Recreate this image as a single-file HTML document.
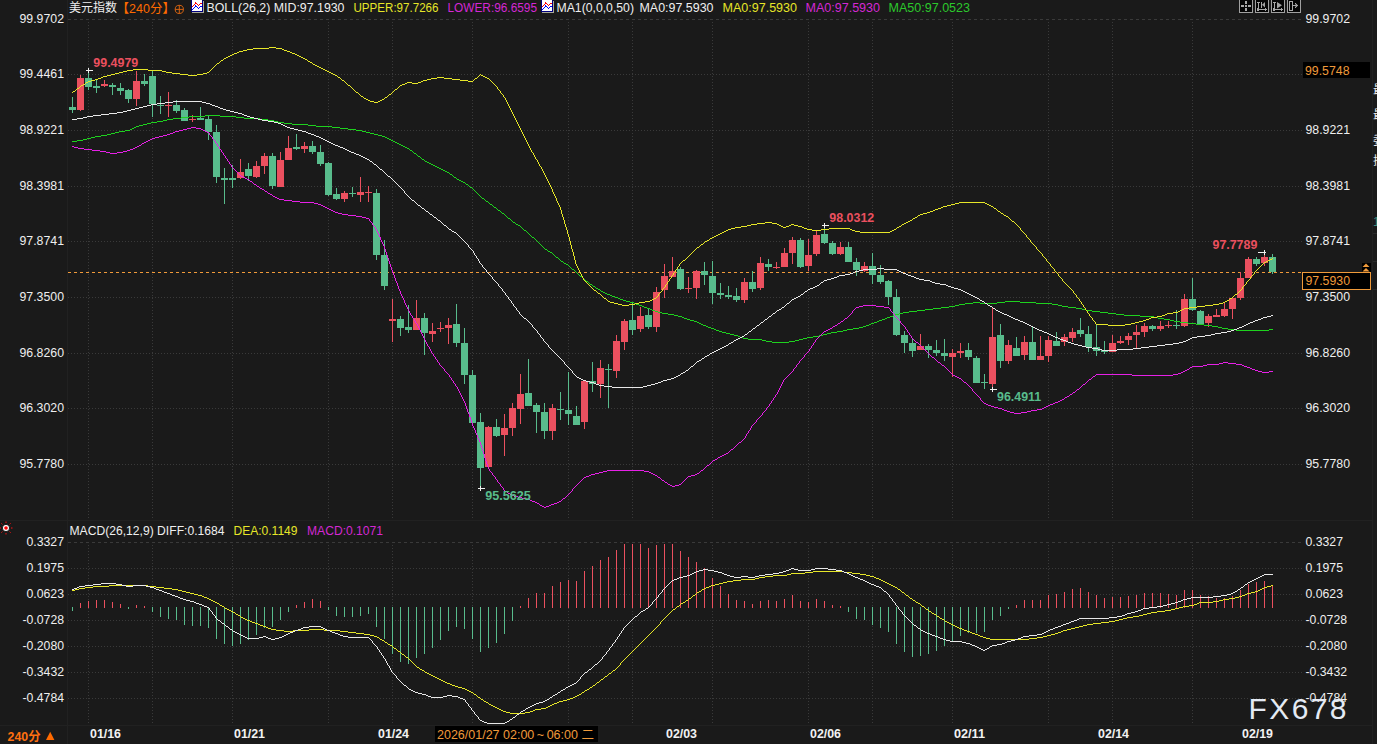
<!DOCTYPE html>
<html><head><meta charset="utf-8"><title>美元指数 240分</title>
<style>
html,body{margin:0;padding:0;background:#1a1a1a;width:1377px;height:744px;overflow:hidden}
svg{position:absolute;left:0;top:0;display:block}
text{font-family:"Liberation Sans","Noto Sans CJK SC",sans-serif}
</style></head><body>
<svg width="1377" height="744" viewBox="0 0 1377 744">
<g shape-rendering="crispEdges" fill="none">
<line x1="68" y1="19.5" x2="1302" y2="19.5" stroke="#3a3a3a" stroke-dasharray="3 3"/>
<line x1="68" y1="74.5" x2="1302" y2="74.5" stroke="#3a3a3a" stroke-dasharray="1 2"/>
<line x1="68" y1="130.5" x2="1302" y2="130.5" stroke="#3a3a3a" stroke-dasharray="1 2"/>
<line x1="68" y1="186.5" x2="1302" y2="186.5" stroke="#3a3a3a" stroke-dasharray="1 2"/>
<line x1="68" y1="241.5" x2="1302" y2="241.5" stroke="#3a3a3a" stroke-dasharray="1 2"/>
<line x1="68" y1="297.5" x2="1302" y2="297.5" stroke="#3a3a3a" stroke-dasharray="1 2"/>
<line x1="68" y1="353.5" x2="1302" y2="353.5" stroke="#3a3a3a" stroke-dasharray="1 2"/>
<line x1="68" y1="408.5" x2="1302" y2="408.5" stroke="#3a3a3a" stroke-dasharray="1 2"/>
<line x1="68" y1="464.5" x2="1302" y2="464.5" stroke="#3a3a3a" stroke-dasharray="1 2"/>
<line x1="68" y1="542.5" x2="1302" y2="542.5" stroke="#3a3a3a" stroke-dasharray="3 3"/>
<line x1="68" y1="568.5" x2="1302" y2="568.5" stroke="#3a3a3a" stroke-dasharray="1 2"/>
<line x1="68" y1="594.5" x2="1302" y2="594.5" stroke="#3a3a3a" stroke-dasharray="1 2"/>
<line x1="68" y1="620.5" x2="1302" y2="620.5" stroke="#3a3a3a" stroke-dasharray="1 2"/>
<line x1="68" y1="646.5" x2="1302" y2="646.5" stroke="#3a3a3a" stroke-dasharray="1 2"/>
<line x1="68" y1="672.5" x2="1302" y2="672.5" stroke="#3a3a3a" stroke-dasharray="1 2"/>
<line x1="68" y1="698.5" x2="1302" y2="698.5" stroke="#3a3a3a" stroke-dasharray="1 2"/>
<line x1="88.5" y1="22" x2="88.5" y2="518" stroke="#3a3a3a" stroke-dasharray="1 2"/>
<line x1="88.5" y1="545" x2="88.5" y2="723" stroke="#3a3a3a" stroke-dasharray="1 2"/>
<line x1="152.5" y1="22" x2="152.5" y2="518" stroke="#3a3a3a" stroke-dasharray="1 2"/>
<line x1="152.5" y1="545" x2="152.5" y2="723" stroke="#3a3a3a" stroke-dasharray="1 2"/>
<line x1="232.5" y1="22" x2="232.5" y2="518" stroke="#3a3a3a" stroke-dasharray="1 2"/>
<line x1="232.5" y1="545" x2="232.5" y2="723" stroke="#3a3a3a" stroke-dasharray="1 2"/>
<line x1="328.5" y1="22" x2="328.5" y2="518" stroke="#3a3a3a" stroke-dasharray="1 2"/>
<line x1="328.5" y1="545" x2="328.5" y2="723" stroke="#3a3a3a" stroke-dasharray="1 2"/>
<line x1="392.5" y1="22" x2="392.5" y2="518" stroke="#3a3a3a" stroke-dasharray="1 2"/>
<line x1="392.5" y1="545" x2="392.5" y2="723" stroke="#3a3a3a" stroke-dasharray="1 2"/>
<line x1="472.5" y1="22" x2="472.5" y2="518" stroke="#3a3a3a" stroke-dasharray="1 2"/>
<line x1="472.5" y1="545" x2="472.5" y2="723" stroke="#3a3a3a" stroke-dasharray="1 2"/>
<line x1="568.5" y1="22" x2="568.5" y2="518" stroke="#3a3a3a" stroke-dasharray="1 2"/>
<line x1="568.5" y1="545" x2="568.5" y2="723" stroke="#3a3a3a" stroke-dasharray="1 2"/>
<line x1="632.5" y1="22" x2="632.5" y2="518" stroke="#3a3a3a" stroke-dasharray="1 2"/>
<line x1="632.5" y1="545" x2="632.5" y2="723" stroke="#3a3a3a" stroke-dasharray="1 2"/>
<line x1="712.5" y1="22" x2="712.5" y2="518" stroke="#3a3a3a" stroke-dasharray="1 2"/>
<line x1="712.5" y1="545" x2="712.5" y2="723" stroke="#3a3a3a" stroke-dasharray="1 2"/>
<line x1="808.5" y1="22" x2="808.5" y2="518" stroke="#3a3a3a" stroke-dasharray="1 2"/>
<line x1="808.5" y1="545" x2="808.5" y2="723" stroke="#3a3a3a" stroke-dasharray="1 2"/>
<line x1="872.5" y1="22" x2="872.5" y2="518" stroke="#3a3a3a" stroke-dasharray="1 2"/>
<line x1="872.5" y1="545" x2="872.5" y2="723" stroke="#3a3a3a" stroke-dasharray="1 2"/>
<line x1="952.5" y1="22" x2="952.5" y2="518" stroke="#3a3a3a" stroke-dasharray="1 2"/>
<line x1="952.5" y1="545" x2="952.5" y2="723" stroke="#3a3a3a" stroke-dasharray="1 2"/>
<line x1="1048.5" y1="22" x2="1048.5" y2="518" stroke="#3a3a3a" stroke-dasharray="1 2"/>
<line x1="1048.5" y1="545" x2="1048.5" y2="723" stroke="#3a3a3a" stroke-dasharray="1 2"/>
<line x1="1112.5" y1="22" x2="1112.5" y2="518" stroke="#3a3a3a" stroke-dasharray="1 2"/>
<line x1="1112.5" y1="545" x2="1112.5" y2="723" stroke="#3a3a3a" stroke-dasharray="1 2"/>
<line x1="1192.5" y1="22" x2="1192.5" y2="518" stroke="#3a3a3a" stroke-dasharray="1 2"/>
<line x1="1192.5" y1="545" x2="1192.5" y2="723" stroke="#3a3a3a" stroke-dasharray="1 2"/>
<line x1="67.5" y1="0" x2="67.5" y2="744" stroke="#212121"/>
<line x1="0" y1="520.5" x2="1372" y2="520.5" stroke="#212121"/>
<line x1="0" y1="725.5" x2="1372" y2="725.5" stroke="#212121"/>
<line x1="1372.5" y1="0" x2="1372.5" y2="744" stroke="#212121"/>
</g>
<line x1="68" y1="272.5" x2="1302" y2="272.5" stroke="#f09a3a" stroke-dasharray="3 3" shape-rendering="crispEdges"/>
<g shape-rendering="crispEdges">
<rect x="72" y="97" width="1" height="16" fill="#58bc8c"/>
<rect x="69" y="107" width="7" height="3" fill="#58bc8c"/>
<rect x="80" y="75" width="1" height="36" fill="#eb505f"/>
<rect x="77" y="78" width="7" height="32" fill="#eb505f"/>
<rect x="88" y="70" width="1" height="20" fill="#58bc8c"/>
<rect x="85" y="78" width="7" height="9" fill="#58bc8c"/>
<rect x="96" y="80" width="1" height="13" fill="#58bc8c"/>
<rect x="93" y="86" width="7" height="2" fill="#58bc8c"/>
<rect x="104" y="80" width="1" height="7" fill="#eb505f"/>
<rect x="101" y="84" width="7" height="2" fill="#eb505f"/>
<rect x="112" y="83" width="1" height="12" fill="#58bc8c"/>
<rect x="109" y="85" width="7" height="2" fill="#58bc8c"/>
<rect x="120" y="83" width="1" height="12" fill="#58bc8c"/>
<rect x="117" y="88" width="7" height="3" fill="#58bc8c"/>
<rect x="128" y="89" width="1" height="14" fill="#58bc8c"/>
<rect x="125" y="90" width="7" height="9" fill="#58bc8c"/>
<rect x="136" y="71" width="1" height="35" fill="#eb505f"/>
<rect x="133" y="81" width="7" height="18" fill="#eb505f"/>
<rect x="144" y="74" width="1" height="12" fill="#58bc8c"/>
<rect x="141" y="81" width="7" height="3" fill="#58bc8c"/>
<rect x="152" y="71" width="1" height="46" fill="#58bc8c"/>
<rect x="149" y="76" width="7" height="28" fill="#58bc8c"/>
<rect x="160" y="96" width="1" height="18" fill="#58bc8c"/>
<rect x="157" y="105" width="7" height="1" fill="#58bc8c"/>
<rect x="168" y="92" width="1" height="25" fill="#eb505f"/>
<rect x="165" y="105" width="7" height="1" fill="#eb505f"/>
<rect x="176" y="100" width="1" height="13" fill="#58bc8c"/>
<rect x="173" y="105" width="7" height="6" fill="#58bc8c"/>
<rect x="184" y="108" width="1" height="13" fill="#58bc8c"/>
<rect x="181" y="110" width="7" height="11" fill="#58bc8c"/>
<rect x="192" y="115" width="1" height="7" fill="#eb505f"/>
<rect x="189" y="119" width="7" height="1" fill="#eb505f"/>
<rect x="200" y="107" width="1" height="13" fill="#58bc8c"/>
<rect x="197" y="118" width="7" height="2" fill="#58bc8c"/>
<rect x="208" y="116" width="1" height="24" fill="#58bc8c"/>
<rect x="205" y="119" width="7" height="13" fill="#58bc8c"/>
<rect x="216" y="125" width="1" height="58" fill="#58bc8c"/>
<rect x="213" y="132" width="7" height="45" fill="#58bc8c"/>
<rect x="224" y="168" width="1" height="36" fill="#58bc8c"/>
<rect x="221" y="178" width="7" height="2" fill="#58bc8c"/>
<rect x="232" y="165" width="1" height="23" fill="#58bc8c"/>
<rect x="229" y="178" width="7" height="2" fill="#58bc8c"/>
<rect x="240" y="159" width="1" height="20" fill="#eb505f"/>
<rect x="237" y="172" width="7" height="6" fill="#eb505f"/>
<rect x="248" y="163" width="1" height="18" fill="#58bc8c"/>
<rect x="245" y="169" width="7" height="7" fill="#58bc8c"/>
<rect x="256" y="161" width="1" height="17" fill="#eb505f"/>
<rect x="253" y="166" width="7" height="11" fill="#eb505f"/>
<rect x="264" y="153" width="1" height="21" fill="#eb505f"/>
<rect x="261" y="156" width="7" height="10" fill="#eb505f"/>
<rect x="272" y="153" width="1" height="36" fill="#58bc8c"/>
<rect x="269" y="156" width="7" height="30" fill="#58bc8c"/>
<rect x="280" y="152" width="1" height="35" fill="#eb505f"/>
<rect x="277" y="160" width="7" height="27" fill="#eb505f"/>
<rect x="288" y="136" width="1" height="24" fill="#eb505f"/>
<rect x="285" y="148" width="7" height="12" fill="#eb505f"/>
<rect x="296" y="134" width="1" height="16" fill="#58bc8c"/>
<rect x="293" y="147" width="7" height="2" fill="#58bc8c"/>
<rect x="304" y="142" width="1" height="11" fill="#eb505f"/>
<rect x="301" y="146" width="7" height="3" fill="#eb505f"/>
<rect x="312" y="141" width="1" height="13" fill="#58bc8c"/>
<rect x="309" y="146" width="7" height="6" fill="#58bc8c"/>
<rect x="320" y="145" width="1" height="21" fill="#58bc8c"/>
<rect x="317" y="152" width="7" height="12" fill="#58bc8c"/>
<rect x="328" y="162" width="1" height="34" fill="#58bc8c"/>
<rect x="325" y="163" width="7" height="32" fill="#58bc8c"/>
<rect x="336" y="188" width="1" height="12" fill="#58bc8c"/>
<rect x="333" y="194" width="7" height="5" fill="#58bc8c"/>
<rect x="344" y="191" width="1" height="11" fill="#eb505f"/>
<rect x="341" y="193" width="7" height="6" fill="#eb505f"/>
<rect x="352" y="187" width="1" height="10" fill="#58bc8c"/>
<rect x="349" y="193" width="7" height="1" fill="#58bc8c"/>
<rect x="360" y="177" width="1" height="25" fill="#eb505f"/>
<rect x="357" y="192" width="7" height="3" fill="#eb505f"/>
<rect x="368" y="186" width="1" height="16" fill="#eb505f"/>
<rect x="365" y="192" width="7" height="1" fill="#eb505f"/>
<rect x="376" y="189" width="1" height="71" fill="#58bc8c"/>
<rect x="373" y="193" width="7" height="62" fill="#58bc8c"/>
<rect x="384" y="240" width="1" height="50" fill="#58bc8c"/>
<rect x="381" y="255" width="7" height="31" fill="#58bc8c"/>
<rect x="392" y="299" width="1" height="43" fill="#eb505f"/>
<rect x="389" y="319" width="7" height="2" fill="#eb505f"/>
<rect x="400" y="316" width="1" height="20" fill="#58bc8c"/>
<rect x="397" y="319" width="7" height="9" fill="#58bc8c"/>
<rect x="408" y="305" width="1" height="28" fill="#58bc8c"/>
<rect x="405" y="327" width="7" height="3" fill="#58bc8c"/>
<rect x="416" y="300" width="1" height="30" fill="#eb505f"/>
<rect x="413" y="318" width="7" height="12" fill="#eb505f"/>
<rect x="424" y="313" width="1" height="42" fill="#58bc8c"/>
<rect x="421" y="318" width="7" height="15" fill="#58bc8c"/>
<rect x="432" y="323" width="1" height="19" fill="#eb505f"/>
<rect x="429" y="331" width="7" height="3" fill="#eb505f"/>
<rect x="440" y="322" width="1" height="10" fill="#eb505f"/>
<rect x="437" y="328" width="7" height="1" fill="#eb505f"/>
<rect x="448" y="318" width="1" height="26" fill="#eb505f"/>
<rect x="445" y="325" width="7" height="3" fill="#eb505f"/>
<rect x="456" y="304" width="1" height="43" fill="#58bc8c"/>
<rect x="453" y="324" width="7" height="19" fill="#58bc8c"/>
<rect x="464" y="328" width="1" height="56" fill="#58bc8c"/>
<rect x="461" y="343" width="7" height="32" fill="#58bc8c"/>
<rect x="472" y="370" width="1" height="55" fill="#58bc8c"/>
<rect x="469" y="375" width="7" height="48" fill="#58bc8c"/>
<rect x="480" y="413" width="1" height="76" fill="#58bc8c"/>
<rect x="477" y="422" width="7" height="46" fill="#58bc8c"/>
<rect x="488" y="426" width="1" height="41" fill="#eb505f"/>
<rect x="485" y="427" width="7" height="40" fill="#eb505f"/>
<rect x="496" y="419" width="1" height="18" fill="#58bc8c"/>
<rect x="493" y="427" width="7" height="9" fill="#58bc8c"/>
<rect x="504" y="414" width="1" height="42" fill="#eb505f"/>
<rect x="501" y="428" width="7" height="7" fill="#eb505f"/>
<rect x="512" y="403" width="1" height="33" fill="#eb505f"/>
<rect x="509" y="408" width="7" height="20" fill="#eb505f"/>
<rect x="520" y="374" width="1" height="50" fill="#eb505f"/>
<rect x="517" y="394" width="7" height="15" fill="#eb505f"/>
<rect x="528" y="359" width="1" height="47" fill="#58bc8c"/>
<rect x="525" y="393" width="7" height="13" fill="#58bc8c"/>
<rect x="536" y="403" width="1" height="30" fill="#58bc8c"/>
<rect x="533" y="405" width="7" height="7" fill="#58bc8c"/>
<rect x="544" y="403" width="1" height="36" fill="#58bc8c"/>
<rect x="541" y="412" width="7" height="19" fill="#58bc8c"/>
<rect x="552" y="404" width="1" height="36" fill="#eb505f"/>
<rect x="549" y="408" width="7" height="23" fill="#eb505f"/>
<rect x="560" y="392" width="1" height="28" fill="#58bc8c"/>
<rect x="557" y="409" width="7" height="1" fill="#58bc8c"/>
<rect x="568" y="372" width="1" height="53" fill="#58bc8c"/>
<rect x="565" y="410" width="7" height="4" fill="#58bc8c"/>
<rect x="576" y="406" width="1" height="19" fill="#58bc8c"/>
<rect x="573" y="416" width="7" height="9" fill="#58bc8c"/>
<rect x="584" y="381" width="1" height="48" fill="#eb505f"/>
<rect x="581" y="381" width="7" height="41" fill="#eb505f"/>
<rect x="592" y="362" width="1" height="30" fill="#58bc8c"/>
<rect x="589" y="381" width="7" height="3" fill="#58bc8c"/>
<rect x="600" y="360" width="1" height="38" fill="#eb505f"/>
<rect x="597" y="368" width="7" height="16" fill="#eb505f"/>
<rect x="608" y="364" width="1" height="44" fill="#58bc8c"/>
<rect x="605" y="369" width="7" height="1" fill="#58bc8c"/>
<rect x="616" y="335" width="1" height="43" fill="#eb505f"/>
<rect x="613" y="341" width="7" height="30" fill="#eb505f"/>
<rect x="624" y="319" width="1" height="31" fill="#eb505f"/>
<rect x="621" y="321" width="7" height="21" fill="#eb505f"/>
<rect x="632" y="302" width="1" height="33" fill="#58bc8c"/>
<rect x="629" y="320" width="7" height="10" fill="#58bc8c"/>
<rect x="640" y="307" width="1" height="25" fill="#eb505f"/>
<rect x="637" y="316" width="7" height="13" fill="#eb505f"/>
<rect x="648" y="308" width="1" height="21" fill="#58bc8c"/>
<rect x="645" y="315" width="7" height="12" fill="#58bc8c"/>
<rect x="656" y="287" width="1" height="45" fill="#eb505f"/>
<rect x="653" y="292" width="7" height="35" fill="#eb505f"/>
<rect x="664" y="264" width="1" height="34" fill="#eb505f"/>
<rect x="661" y="276" width="7" height="14" fill="#eb505f"/>
<rect x="672" y="257" width="1" height="20" fill="#eb505f"/>
<rect x="669" y="271" width="7" height="6" fill="#eb505f"/>
<rect x="680" y="267" width="1" height="23" fill="#58bc8c"/>
<rect x="677" y="269" width="7" height="20" fill="#58bc8c"/>
<rect x="688" y="277" width="1" height="16" fill="#eb505f"/>
<rect x="685" y="288" width="7" height="1" fill="#eb505f"/>
<rect x="696" y="270" width="1" height="29" fill="#eb505f"/>
<rect x="693" y="271" width="7" height="17" fill="#eb505f"/>
<rect x="704" y="262" width="1" height="23" fill="#58bc8c"/>
<rect x="701" y="271" width="7" height="4" fill="#58bc8c"/>
<rect x="712" y="261" width="1" height="43" fill="#58bc8c"/>
<rect x="709" y="276" width="7" height="17" fill="#58bc8c"/>
<rect x="720" y="283" width="1" height="16" fill="#58bc8c"/>
<rect x="717" y="293" width="7" height="2" fill="#58bc8c"/>
<rect x="728" y="286" width="1" height="13" fill="#58bc8c"/>
<rect x="725" y="295" width="7" height="2" fill="#58bc8c"/>
<rect x="736" y="288" width="1" height="14" fill="#58bc8c"/>
<rect x="733" y="296" width="7" height="4" fill="#58bc8c"/>
<rect x="744" y="278" width="1" height="25" fill="#eb505f"/>
<rect x="741" y="282" width="7" height="18" fill="#eb505f"/>
<rect x="752" y="271" width="1" height="21" fill="#58bc8c"/>
<rect x="749" y="282" width="7" height="7" fill="#58bc8c"/>
<rect x="760" y="257" width="1" height="33" fill="#eb505f"/>
<rect x="757" y="263" width="7" height="25" fill="#eb505f"/>
<rect x="768" y="259" width="1" height="12" fill="#58bc8c"/>
<rect x="765" y="264" width="7" height="3" fill="#58bc8c"/>
<rect x="776" y="262" width="1" height="7" fill="#eb505f"/>
<rect x="773" y="267" width="7" height="1" fill="#eb505f"/>
<rect x="784" y="248" width="1" height="19" fill="#eb505f"/>
<rect x="781" y="253" width="7" height="14" fill="#eb505f"/>
<rect x="792" y="237" width="1" height="27" fill="#eb505f"/>
<rect x="789" y="240" width="7" height="13" fill="#eb505f"/>
<rect x="800" y="238" width="1" height="30" fill="#58bc8c"/>
<rect x="797" y="240" width="7" height="27" fill="#58bc8c"/>
<rect x="808" y="239" width="1" height="32" fill="#eb505f"/>
<rect x="805" y="255" width="7" height="11" fill="#eb505f"/>
<rect x="816" y="231" width="1" height="25" fill="#eb505f"/>
<rect x="813" y="235" width="7" height="19" fill="#eb505f"/>
<rect x="824" y="225" width="1" height="19" fill="#58bc8c"/>
<rect x="821" y="234" width="7" height="9" fill="#58bc8c"/>
<rect x="832" y="241" width="1" height="14" fill="#58bc8c"/>
<rect x="829" y="243" width="7" height="11" fill="#58bc8c"/>
<rect x="840" y="242" width="1" height="13" fill="#eb505f"/>
<rect x="837" y="247" width="7" height="7" fill="#eb505f"/>
<rect x="848" y="242" width="1" height="20" fill="#58bc8c"/>
<rect x="845" y="247" width="7" height="15" fill="#58bc8c"/>
<rect x="856" y="258" width="1" height="18" fill="#58bc8c"/>
<rect x="853" y="262" width="7" height="8" fill="#58bc8c"/>
<rect x="864" y="262" width="1" height="10" fill="#eb505f"/>
<rect x="861" y="266" width="7" height="5" fill="#eb505f"/>
<rect x="872" y="253" width="1" height="31" fill="#58bc8c"/>
<rect x="869" y="266" width="7" height="9" fill="#58bc8c"/>
<rect x="880" y="265" width="1" height="19" fill="#58bc8c"/>
<rect x="877" y="275" width="7" height="7" fill="#58bc8c"/>
<rect x="888" y="280" width="1" height="25" fill="#58bc8c"/>
<rect x="885" y="281" width="7" height="16" fill="#58bc8c"/>
<rect x="896" y="289" width="1" height="47" fill="#58bc8c"/>
<rect x="893" y="297" width="7" height="38" fill="#58bc8c"/>
<rect x="904" y="331" width="1" height="22" fill="#58bc8c"/>
<rect x="901" y="335" width="7" height="8" fill="#58bc8c"/>
<rect x="912" y="339" width="1" height="18" fill="#58bc8c"/>
<rect x="909" y="343" width="7" height="8" fill="#58bc8c"/>
<rect x="920" y="334" width="1" height="16" fill="#eb505f"/>
<rect x="917" y="346" width="7" height="4" fill="#eb505f"/>
<rect x="928" y="344" width="1" height="14" fill="#58bc8c"/>
<rect x="925" y="346" width="7" height="4" fill="#58bc8c"/>
<rect x="936" y="340" width="1" height="16" fill="#58bc8c"/>
<rect x="933" y="350" width="7" height="3" fill="#58bc8c"/>
<rect x="944" y="339" width="1" height="22" fill="#58bc8c"/>
<rect x="941" y="353" width="7" height="3" fill="#58bc8c"/>
<rect x="952" y="349" width="1" height="28" fill="#eb505f"/>
<rect x="949" y="353" width="7" height="4" fill="#eb505f"/>
<rect x="960" y="343" width="1" height="15" fill="#eb505f"/>
<rect x="957" y="351" width="7" height="2" fill="#eb505f"/>
<rect x="968" y="343" width="1" height="17" fill="#58bc8c"/>
<rect x="965" y="350" width="7" height="7" fill="#58bc8c"/>
<rect x="976" y="356" width="1" height="27" fill="#58bc8c"/>
<rect x="973" y="358" width="7" height="25" fill="#58bc8c"/>
<rect x="984" y="374" width="1" height="15" fill="#58bc8c"/>
<rect x="981" y="382" width="7" height="1" fill="#58bc8c"/>
<rect x="992" y="307" width="1" height="82" fill="#eb505f"/>
<rect x="989" y="337" width="7" height="47" fill="#eb505f"/>
<rect x="1000" y="324" width="1" height="44" fill="#58bc8c"/>
<rect x="997" y="335" width="7" height="26" fill="#58bc8c"/>
<rect x="1008" y="340" width="1" height="24" fill="#eb505f"/>
<rect x="1005" y="345" width="7" height="16" fill="#eb505f"/>
<rect x="1016" y="337" width="1" height="19" fill="#58bc8c"/>
<rect x="1013" y="348" width="7" height="8" fill="#58bc8c"/>
<rect x="1024" y="336" width="1" height="24" fill="#eb505f"/>
<rect x="1021" y="342" width="7" height="13" fill="#eb505f"/>
<rect x="1032" y="327" width="1" height="33" fill="#58bc8c"/>
<rect x="1029" y="342" width="7" height="18" fill="#58bc8c"/>
<rect x="1040" y="336" width="1" height="24" fill="#eb505f"/>
<rect x="1037" y="356" width="7" height="4" fill="#eb505f"/>
<rect x="1048" y="336" width="1" height="26" fill="#eb505f"/>
<rect x="1045" y="340" width="7" height="16" fill="#eb505f"/>
<rect x="1056" y="332" width="1" height="14" fill="#58bc8c"/>
<rect x="1053" y="341" width="7" height="5" fill="#58bc8c"/>
<rect x="1064" y="334" width="1" height="12" fill="#eb505f"/>
<rect x="1061" y="337" width="7" height="5" fill="#eb505f"/>
<rect x="1072" y="328" width="1" height="14" fill="#eb505f"/>
<rect x="1069" y="332" width="7" height="6" fill="#eb505f"/>
<rect x="1080" y="318" width="1" height="19" fill="#58bc8c"/>
<rect x="1077" y="330" width="7" height="4" fill="#58bc8c"/>
<rect x="1088" y="326" width="1" height="26" fill="#58bc8c"/>
<rect x="1085" y="334" width="7" height="13" fill="#58bc8c"/>
<rect x="1096" y="325" width="1" height="31" fill="#58bc8c"/>
<rect x="1093" y="347" width="7" height="4" fill="#58bc8c"/>
<rect x="1104" y="341" width="1" height="13" fill="#58bc8c"/>
<rect x="1101" y="350" width="7" height="2" fill="#58bc8c"/>
<rect x="1112" y="335" width="1" height="17" fill="#eb505f"/>
<rect x="1109" y="343" width="7" height="9" fill="#eb505f"/>
<rect x="1120" y="336" width="1" height="8" fill="#eb505f"/>
<rect x="1117" y="341" width="7" height="2" fill="#eb505f"/>
<rect x="1128" y="333" width="1" height="12" fill="#eb505f"/>
<rect x="1125" y="336" width="7" height="4" fill="#eb505f"/>
<rect x="1136" y="325" width="1" height="24" fill="#eb505f"/>
<rect x="1133" y="332" width="7" height="3" fill="#eb505f"/>
<rect x="1144" y="323" width="1" height="14" fill="#eb505f"/>
<rect x="1141" y="326" width="7" height="6" fill="#eb505f"/>
<rect x="1152" y="325" width="1" height="6" fill="#58bc8c"/>
<rect x="1149" y="326" width="7" height="3" fill="#58bc8c"/>
<rect x="1160" y="321" width="1" height="10" fill="#eb505f"/>
<rect x="1157" y="326" width="7" height="3" fill="#eb505f"/>
<rect x="1168" y="321" width="1" height="7" fill="#eb505f"/>
<rect x="1165" y="325" width="7" height="1" fill="#eb505f"/>
<rect x="1176" y="310" width="1" height="19" fill="#58bc8c"/>
<rect x="1173" y="325" width="7" height="1" fill="#58bc8c"/>
<rect x="1184" y="294" width="1" height="33" fill="#eb505f"/>
<rect x="1181" y="299" width="7" height="27" fill="#eb505f"/>
<rect x="1192" y="278" width="1" height="33" fill="#58bc8c"/>
<rect x="1189" y="299" width="7" height="11" fill="#58bc8c"/>
<rect x="1200" y="310" width="1" height="14" fill="#58bc8c"/>
<rect x="1197" y="311" width="7" height="13" fill="#58bc8c"/>
<rect x="1208" y="314" width="1" height="13" fill="#eb505f"/>
<rect x="1205" y="316" width="7" height="7" fill="#eb505f"/>
<rect x="1216" y="309" width="1" height="8" fill="#eb505f"/>
<rect x="1213" y="315" width="7" height="2" fill="#eb505f"/>
<rect x="1224" y="303" width="1" height="14" fill="#eb505f"/>
<rect x="1221" y="309" width="7" height="7" fill="#eb505f"/>
<rect x="1232" y="298" width="1" height="21" fill="#eb505f"/>
<rect x="1229" y="298" width="7" height="11" fill="#eb505f"/>
<rect x="1240" y="272" width="1" height="28" fill="#eb505f"/>
<rect x="1237" y="278" width="7" height="20" fill="#eb505f"/>
<rect x="1248" y="257" width="1" height="21" fill="#eb505f"/>
<rect x="1245" y="259" width="7" height="19" fill="#eb505f"/>
<rect x="1256" y="257" width="1" height="9" fill="#58bc8c"/>
<rect x="1253" y="259" width="7" height="5" fill="#58bc8c"/>
<rect x="1264" y="252" width="1" height="14" fill="#eb505f"/>
<rect x="1261" y="257" width="7" height="6" fill="#eb505f"/>
<rect x="1272" y="254" width="1" height="20" fill="#58bc8c"/>
<rect x="1269" y="257" width="7" height="15" fill="#58bc8c"/>
</g>
<path d="M72 141h5v1h-5zM77 140h6v1h-6zM83 139h4v1h-4zM87 138h4v1h-4zM91 137h4v1h-4zM95 136h6v1h-6zM101 135h6v1h-6zM107 134h4v1h-4zM111 133h4v1h-4zM115 132h4v1h-4zM119 131h6v1h-6zM125 130h5v1h-5zM130 129h2v1h-2zM132 128h2v1h-2zM134 127h2v1h-2zM136 126h3v1h-3zM139 125h4v1h-4zM143 124h4v1h-4zM147 123h4v1h-4zM151 122h6v1h-6zM157 121h6v1h-6zM163 120h4v1h-4zM167 119h6v1h-6zM173 118h8v1h-8zM181 117h8v1h-8zM189 116h16v1h-16zM205 115h15v1h-15zM220 116h16v1h-16zM236 117h8v1h-8zM244 118h16v1h-16zM260 119h8v1h-8zM268 120h6v1h-6zM274 121h4v1h-4zM278 122h6v1h-6zM284 123h8v1h-8zM292 124h16v1h-16zM308 125h8v1h-8zM316 126h16v1h-16zM332 127h8v1h-8zM340 128h8v1h-8zM348 129h8v1h-8zM356 130h6v1h-6zM362 131h4v1h-4zM366 132h4v1h-4zM370 133h4v1h-4zM374 134h4v1h-4zM378 135h4v1h-4zM382 136h3v1h-3zM385 137h2v1h-2zM387 138h2v1h-2zM389 139h2v1h-2zM391 140h2v1h-2zM393 141h2v1h-2zM395 142h2v1h-2zM397 143h2v1h-2zM399 144h2v1h-2zM401 145h2v1h-2zM403 146h2v1h-2zM405 147h2v1h-2zM407 148h2v1h-2zM409 149h1v1h-1zM410 150h2v1h-2zM412 151h1v1h-1zM413 152h1v1h-1zM414 153h2v1h-2zM416 154h1v1h-1zM417 155h1v1h-1zM418 156h2v1h-2zM420 157h1v1h-1zM421 158h1v1h-1zM422 159h2v1h-2zM424 160h1v1h-1zM425 161h2v1h-2zM427 162h2v1h-2zM429 163h2v1h-2zM431 164h2v1h-2zM433 165h2v1h-2zM435 166h2v1h-2zM437 167h2v1h-2zM439 168h2v1h-2zM441 169h2v1h-2zM443 170h2v1h-2zM445 171h2v1h-2zM447 172h2v1h-2zM449 173h1v1h-1zM450 174h2v1h-2zM452 175h1v1h-1zM453 176h1v1h-1zM454 177h2v1h-2zM456 178h1v1h-1zM457 179h2v1h-2zM459 180h2v1h-2zM461 181h2v1h-2zM463 182h2v1h-2zM465 183h1v1h-1zM466 184h2v1h-2zM468 185h1v1h-1zM469 186h1v1h-1zM470 187h2v1h-2zM472 188h1v1h-1zM473 189h1v1h-1zM474 190h1v1h-1zM475 191h1v1h-1zM476 192h1v1h-1zM477 193h1v1h-1zM478 194h1v1h-1zM479 195h1v1h-1zM480 196h1v1h-1zM481 197h1v1h-1zM482 198h2v1h-2zM484 199h1v1h-1zM485 200h1v1h-1zM486 201h2v1h-2zM488 202h1v1h-1zM489 203h1v1h-1zM490 204h2v1h-2zM492 205h1v1h-1zM493 206h1v1h-1zM494 207h2v1h-2zM496 208h1v1h-1zM497 209h1v1h-1zM498 210h2v1h-2zM500 211h1v1h-1zM501 212h1v1h-1zM502 213h2v1h-2zM504 214h1v1h-1zM505 215h1v1h-1zM506 216h1v1h-1zM507 217h1v1h-1zM508 218h2v1h-2zM510 219h1v1h-1zM511 220h1v1h-1zM512 221h1v1h-1zM513 222h2v1h-2zM515 223h1v1h-1zM516 224h2v1h-2zM518 225h2v1h-2zM520 226h1v1h-1zM521 227h1v1h-1zM522 228h1v1h-1zM523 229h1v1h-1zM524 230h2v1h-2zM526 231h1v1h-1zM527 232h1v1h-1zM528 233h1v1h-1zM529 234h1v1h-1zM530 235h1v1h-1zM531 236h1v1h-1zM532 237h2v1h-2zM534 238h1v1h-1zM535 239h1v1h-1zM536 240h1v1h-1zM537 241h1v1h-1zM538 242h1v1h-1zM539 243h1v1h-1zM540 244h1v1h-1zM541 245h1v1h-1zM542 246h1v1h-1zM543 247h1v1h-1zM544 248h1v1h-1zM545 249h2v1h-2zM547 250h1v1h-1zM548 251h2v1h-2zM550 252h2v1h-2zM552 253h1v1h-1zM553 254h1v1h-1zM554 255h1v1h-1zM555 256h1v1h-1zM556 257h2v1h-2zM558 258h1v1h-1zM559 259h1v1h-1zM560 260h1v1h-1zM561 261h2v1h-2zM563 262h1v1h-1zM564 263h2v1h-2zM566 264h2v1h-2zM568 265h1v1h-1zM569 266h1v1h-1zM570 267h1v1h-1zM571 268h1v1h-1zM572 269h2v1h-2zM574 270h1v1h-1zM575 271h1v1h-1zM576 272h1v1h-1zM577 273h1v1h-1zM578 274h1v1h-1zM579 275h1v1h-1zM580 276h2v1h-2zM582 277h1v1h-1zM583 278h1v1h-1zM584 279h1v1h-1zM585 280h1v1h-1zM586 281h2v1h-2zM588 282h1v1h-1zM589 283h1v1h-1zM590 284h2v1h-2zM592 285h1v1h-1zM593 286h2v1h-2zM595 287h1v1h-1zM596 288h2v1h-2zM598 289h2v1h-2zM600 290h1v1h-1zM601 291h2v1h-2zM603 292h2v1h-2zM605 293h2v1h-2zM607 294h3v1h-3zM610 295h2v1h-2zM612 296h3v1h-3zM615 297h3v1h-3zM618 298h2v1h-2zM620 299h3v1h-3zM623 300h3v1h-3zM626 301h4v1h-4zM630 302h4v1h-4zM634 303h2v1h-2zM636 304h3v1h-3zM639 305h3v1h-3zM642 306h2v1h-2zM644 307h3v1h-3zM647 308h3v1h-3zM650 309h2v1h-2zM652 310h3v1h-3zM655 311h3v1h-3zM658 312h4v1h-4zM662 313h6v1h-6zM668 314h6v1h-6zM674 315h4v1h-4zM678 316h4v1h-4zM682 317h2v1h-2zM684 318h3v1h-3zM687 319h3v1h-3zM690 320h4v1h-4zM694 321h3v1h-3zM697 322h2v1h-2zM699 323h2v1h-2zM701 324h2v1h-2zM703 325h3v1h-3zM706 326h2v1h-2zM708 327h3v1h-3zM711 328h3v1h-3zM714 329h2v1h-2zM716 330h3v1h-3zM719 331h3v1h-3zM722 332h4v1h-4zM726 333h4v1h-4zM730 334h4v1h-4zM734 335h4v1h-4zM738 336h2v1h-2zM740 337h3v1h-3zM743 338h5v1h-5zM748 339h14v1h-14zM762 340h4v1h-4zM766 341h6v1h-6zM772 342h17v1h-17zM789 341h6v1h-6zM795 340h4v1h-4zM799 339h4v1h-4zM803 338h4v1h-4zM807 337h6v1h-6zM813 336h6v1h-6zM819 335h4v1h-4zM823 334h4v1h-4zM827 333h4v1h-4zM831 332h6v1h-6zM837 331h6v1h-6zM843 330h4v1h-4zM847 329h6v1h-6zM853 328h6v1h-6zM859 327h4v1h-4zM863 326h3v1h-3zM866 325h3v1h-3zM869 324h2v1h-2zM871 323h3v1h-3zM874 322h3v1h-3zM877 321h2v1h-2zM879 320h3v1h-3zM882 319h3v1h-3zM885 318h2v1h-2zM887 317h3v1h-3zM890 316h3v1h-3zM893 315h2v1h-2zM895 314h4v1h-4zM899 313h4v1h-4zM903 312h6v1h-6zM909 311h8v1h-8zM917 310h8v1h-8zM925 309h8v1h-8zM933 308h8v1h-8zM941 307h8v1h-8zM949 306h6v1h-6zM955 305h4v1h-4zM959 304h6v1h-6zM965 303h8v1h-8zM973 302h7v1h-7zM980 303h17v1h-17zM997 302h8v1h-8zM1005 301h15v1h-15zM1020 302h16v1h-16zM1036 303h16v1h-16zM1052 304h6v1h-6zM1058 305h4v1h-4zM1062 306h6v1h-6zM1068 307h8v1h-8zM1076 308h6v1h-6zM1082 309h4v1h-4zM1086 310h6v1h-6zM1092 311h8v1h-8zM1100 312h8v1h-8zM1108 313h8v1h-8zM1116 314h8v1h-8zM1124 315h16v1h-16zM1140 316h14v1h-14zM1154 317h4v1h-4zM1158 318h6v1h-6zM1164 319h6v1h-6zM1170 320h4v1h-4zM1174 321h6v1h-6zM1180 322h8v1h-8zM1188 323h8v1h-8zM1196 324h8v1h-8zM1204 325h8v1h-8zM1212 326h6v1h-6zM1218 327h4v1h-4zM1222 328h6v1h-6zM1228 329h8v1h-8zM1236 330h33v1h-33zM1269 329h4v1h-4z" fill="#1ed21e" shape-rendering="crispEdges"/>
<path d="M72 146h2v1h-2zM74 147h4v1h-4zM78 148h6v1h-6zM84 149h8v1h-8zM92 150h8v1h-8zM100 151h6v1h-6zM106 152h4v1h-4zM110 153h7v1h-7zM117 152h6v1h-6zM123 151h4v1h-4zM127 150h3v1h-3zM130 149h3v1h-3zM133 148h2v1h-2zM135 147h2v1h-2zM137 146h2v1h-2zM139 145h2v1h-2zM141 144h1v1h-1zM142 143h2v1h-2zM144 142h2v1h-2zM146 141h2v1h-2zM148 140h2v1h-2zM150 139h2v1h-2zM152 138h3v1h-3zM155 137h4v1h-4zM159 136h4v1h-4zM163 135h4v1h-4zM167 134h3v1h-3zM170 133h3v1h-3zM173 132h2v1h-2zM175 131h4v1h-4zM179 130h4v1h-4zM183 129h4v1h-4zM187 128h4v1h-4zM191 127h5v1h-5zM196 128h5v1h-5zM201 129h2v1h-2zM203 130h2v1h-2zM205 131h2v1h-2zM207 132h2v1h-2zM209 133h1v2h-1zM210 135h1v1h-1zM211 136h1v1h-1zM212 137h1v2h-1zM213 139h1v1h-1zM214 140h1v1h-1zM215 141h1v2h-1zM216 143h1v1h-1zM217 144h1v2h-1zM218 146h1v1h-1zM219 147h1v2h-1zM220 149h1v1h-1zM221 150h1v2h-1zM222 152h1v1h-1zM223 153h1v2h-1zM224 155h1v1h-1zM225 156h1v2h-1zM226 158h1v1h-1zM227 159h1v2h-1zM228 161h1v1h-1zM229 162h1v2h-1zM230 164h1v1h-1zM231 165h1v2h-1zM232 167h1v1h-1zM233 168h1v1h-1zM234 169h1v1h-1zM235 170h1v1h-1zM236 171h1v1h-1zM237 172h1v1h-1zM238 173h1v1h-1zM239 174h1v1h-1zM240 175h1v1h-1zM241 176h2v1h-2zM243 177h2v1h-2zM245 178h2v1h-2zM247 179h2v1h-2zM249 180h1v1h-1zM250 181h2v1h-2zM252 182h1v1h-1zM253 183h1v1h-1zM254 184h2v1h-2zM256 185h1v1h-1zM257 186h2v1h-2zM259 187h1v1h-1zM260 188h2v1h-2zM262 189h2v1h-2zM264 190h1v1h-1zM265 191h2v1h-2zM267 192h1v1h-1zM268 193h2v1h-2zM270 194h2v1h-2zM272 195h1v1h-1zM273 196h2v1h-2zM275 197h2v1h-2zM277 198h2v1h-2zM279 199h5v1h-5zM284 200h8v1h-8zM292 201h8v1h-8zM300 202h14v1h-14zM314 203h4v1h-4zM318 204h3v1h-3zM321 205h2v1h-2zM323 206h2v1h-2zM325 207h2v1h-2zM327 208h2v1h-2zM329 209h2v1h-2zM331 210h2v1h-2zM333 211h2v1h-2zM335 212h3v1h-3zM338 213h4v1h-4zM342 214h6v1h-6zM348 215h8v1h-8zM356 216h6v1h-6zM362 217h4v1h-4zM366 218h3v1h-3zM369 219h1v2h-1zM370 221h1v1h-1zM371 222h1v1h-1zM372 223h1v2h-1zM373 225h1v1h-1zM374 226h1v1h-1zM375 227h1v2h-1zM376 229h1v2h-1zM377 231h1v2h-1zM378 233h1v2h-1zM379 235h1v2h-1zM380 237h1v3h-1zM381 240h1v2h-1zM382 242h1v2h-1zM383 244h1v2h-1zM384 246h1v3h-1zM385 249h1v3h-1zM386 252h1v3h-1zM387 255h1v3h-1zM388 258h1v3h-1zM389 261h1v3h-1zM390 264h1v3h-1zM391 267h1v3h-1zM392 270h1v3h-1zM393 273h1v2h-1zM394 275h1v3h-1zM395 278h1v3h-1zM396 281h1v2h-1zM397 283h1v3h-1zM398 286h1v3h-1zM399 289h1v2h-1zM400 291h1v3h-1zM401 294h1v2h-1zM402 296h1v2h-1zM403 298h1v2h-1zM404 300h1v3h-1zM405 303h1v2h-1zM406 305h1v2h-1zM407 307h1v2h-1zM408 309h1v2h-1zM409 311h1v2h-1zM410 313h1v2h-1zM411 315h1v1h-1zM412 316h1v2h-1zM413 318h1v1h-1zM414 319h1v2h-1zM415 321h1v2h-1zM416 323h1v1h-1zM417 324h1v2h-1zM418 326h1v2h-1zM419 328h1v2h-1zM420 330h1v2h-1zM421 332h1v2h-1zM422 334h1v2h-1zM423 336h1v2h-1zM424 338h1v2h-1zM425 340h1v2h-1zM426 342h1v2h-1zM427 344h1v2h-1zM428 346h1v1h-1zM429 347h1v2h-1zM430 349h1v2h-1zM431 351h1v2h-1zM432 353h1v1h-1zM433 354h1v2h-1zM434 356h1v1h-1zM435 357h1v2h-1zM436 359h1v1h-1zM437 360h1v2h-1zM438 362h1v1h-1zM439 363h1v2h-1zM440 365h1v1h-1zM441 366h1v1h-1zM442 367h1v1h-1zM443 368h1v1h-1zM444 369h1v2h-1zM445 371h1v1h-1zM446 372h1v1h-1zM447 373h1v1h-1zM448 374h1v1h-1zM449 375h1v2h-1zM450 377h1v1h-1zM451 378h1v2h-1zM452 380h1v1h-1zM453 381h1v2h-1zM454 383h1v1h-1zM455 384h1v2h-1zM456 386h1v1h-1zM457 387h1v2h-1zM458 389h1v2h-1zM459 391h1v2h-1zM460 393h1v2h-1zM461 395h1v2h-1zM462 397h1v2h-1zM463 399h1v2h-1zM464 401h1v2h-1zM465 403h1v3h-1zM466 406h1v3h-1zM467 409h1v3h-1zM468 412h1v2h-1zM469 414h1v3h-1zM470 417h1v3h-1zM471 420h1v3h-1zM472 423h1v3h-1zM473 426h1v2h-1zM474 428h1v2h-1zM475 430h1v3h-1zM476 433h1v2h-1zM477 435h1v3h-1zM478 438h1v2h-1zM479 440h1v2h-1zM480 442h1v3h-1zM481 445h1v3h-1zM482 448h1v3h-1zM483 451h1v3h-1zM484 454h1v4h-1zM485 458h1v3h-1zM486 461h1v3h-1zM487 464h1v3h-1zM488 467h1v2h-1zM489 469h1v2h-1zM490 471h1v1h-1zM491 472h1v1h-1zM492 473h1v2h-1zM493 475h1v1h-1zM494 476h1v1h-1zM495 477h1v2h-1zM496 479h1v1h-1zM497 480h1v2h-1zM498 482h1v1h-1zM499 483h1v1h-1zM500 484h1v2h-1zM501 486h1v1h-1zM502 487h1v1h-1zM503 488h1v2h-1zM504 490h1v1h-1zM505 491h2v1h-2zM507 492h1v1h-1zM508 493h2v1h-2zM510 494h2v1h-2zM512 495h2v1h-2zM514 496h4v1h-4zM518 497h4v1h-4zM522 498h4v1h-4zM526 499h4v1h-4zM530 500h2v1h-2zM532 501h3v1h-3zM535 502h2v1h-2zM537 503h2v1h-2zM539 504h1v1h-1zM540 505h2v1h-2zM542 506h2v1h-2zM544 507h2v1h-2zM546 506h3v1h-3zM549 505h2v1h-2zM551 504h3v1h-3zM554 503h3v1h-3zM557 502h2v1h-2zM559 501h2v1h-2zM561 500h1v1h-1zM562 499h1v1h-1zM563 498h2v1h-2zM565 497h1v1h-1zM566 496h1v1h-1zM567 495h1v1h-1zM568 494h1v1h-1zM569 493h1v1h-1zM570 492h1v1h-1zM571 491h1v1h-1zM572 489h1v2h-1zM573 488h1v1h-1zM574 487h1v1h-1zM575 486h1v1h-1zM576 485h1v1h-1zM577 484h1v1h-1zM578 483h1v1h-1zM579 482h1v1h-1zM580 481h1v1h-1zM581 480h1v1h-1zM582 479h1v1h-1zM583 478h1v1h-1zM584 477h2v1h-2zM586 476h3v1h-3zM589 475h2v1h-2zM591 474h4v1h-4zM595 473h4v1h-4zM599 472h4v1h-4zM603 471h4v1h-4zM607 470h37v1h-37zM644 471h5v1h-5zM649 472h2v1h-2zM651 473h2v1h-2zM653 474h2v1h-2zM655 475h2v1h-2zM657 476h1v1h-1zM658 477h2v1h-2zM660 478h1v1h-1zM661 479h1v1h-1zM662 480h2v1h-2zM664 481h1v1h-1zM665 482h2v1h-2zM667 483h1v1h-1zM668 484h2v1h-2zM670 485h2v1h-2zM672 486h3v1h-3zM675 485h4v1h-4zM679 484h2v1h-2zM681 483h1v1h-1zM682 482h1v1h-1zM683 481h1v1h-1zM684 480h1v1h-1zM685 479h1v1h-1zM686 478h1v1h-1zM687 477h1v1h-1zM688 476h3v1h-3zM691 475h4v1h-4zM695 474h2v1h-2zM697 473h2v1h-2zM699 472h1v1h-1zM700 471h1v1h-1zM701 470h2v1h-2zM703 469h1v1h-1zM704 468h1v1h-1zM705 467h1v1h-1zM706 466h1v1h-1zM707 465h2v1h-2zM709 464h1v1h-1zM710 463h1v1h-1zM711 462h1v1h-1zM712 461h1v1h-1zM713 460h2v1h-2zM715 459h2v1h-2zM717 458h1v1h-1zM718 457h2v1h-2zM720 456h2v1h-2zM722 455h2v1h-2zM724 454h2v1h-2zM726 453h2v1h-2zM728 452h1v1h-1zM729 451h1v1h-1zM730 450h1v1h-1zM731 449h2v1h-2zM733 448h1v1h-1zM734 447h1v1h-1zM735 446h1v1h-1zM736 445h1v1h-1zM737 444h1v1h-1zM738 443h1v1h-1zM739 442h2v1h-2zM741 441h1v1h-1zM742 440h1v1h-1zM743 439h1v1h-1zM744 438h1v1h-1zM745 436h1v2h-1zM746 434h1v2h-1zM747 433h1v1h-1zM748 431h1v2h-1zM749 430h1v1h-1zM750 428h1v2h-1zM751 426h1v2h-1zM752 425h1v1h-1zM753 424h1v1h-1zM754 423h1v1h-1zM755 422h1v1h-1zM756 420h1v2h-1zM757 419h1v1h-1zM758 418h1v1h-1zM759 417h1v1h-1zM760 416h1v1h-1zM761 415h1v1h-1zM762 413h1v2h-1zM763 412h1v1h-1zM764 411h1v1h-1zM765 410h1v1h-1zM766 408h1v2h-1zM767 407h1v1h-1zM768 406h1v1h-1zM769 404h1v2h-1zM770 403h1v1h-1zM771 401h1v2h-1zM772 400h1v1h-1zM773 398h1v2h-1zM774 397h1v1h-1zM775 395h1v2h-1zM776 394h1v1h-1zM777 392h1v2h-1zM778 390h1v2h-1zM779 388h1v2h-1zM780 386h1v2h-1zM781 384h1v2h-1zM782 382h1v2h-1zM783 380h1v2h-1zM784 379h1v1h-1zM785 378h1v1h-1zM786 377h1v1h-1zM787 376h1v1h-1zM788 375h1v1h-1zM789 374h1v1h-1zM790 373h1v1h-1zM791 372h1v1h-1zM792 371h1v1h-1zM793 369h1v2h-1zM794 368h1v1h-1zM795 367h1v1h-1zM796 365h1v2h-1zM797 364h1v1h-1zM798 363h1v1h-1zM799 361h1v2h-1zM800 360h1v1h-1zM801 359h1v1h-1zM802 358h1v1h-1zM803 357h1v1h-1zM804 355h1v2h-1zM805 354h1v1h-1zM806 353h1v1h-1zM807 352h1v1h-1zM808 351h1v1h-1zM809 349h1v2h-1zM810 348h1v1h-1zM811 346h1v2h-1zM812 345h1v1h-1zM813 343h1v2h-1zM814 342h1v1h-1zM815 340h1v2h-1zM816 339h1v1h-1zM817 338h1v1h-1zM818 337h1v1h-1zM819 336h1v1h-1zM820 335h1v1h-1zM821 334h1v1h-1zM822 333h1v1h-1zM823 332h1v1h-1zM824 331h2v1h-2zM826 330h2v1h-2zM828 329h2v1h-2zM830 328h2v1h-2zM832 327h1v1h-1zM833 326h2v1h-2zM835 325h2v1h-2zM837 324h1v1h-1zM838 323h2v1h-2zM840 322h1v1h-1zM841 321h2v1h-2zM843 320h1v1h-1zM844 319h1v1h-1zM845 318h2v1h-2zM847 317h1v1h-1zM848 316h1v1h-1zM849 315h1v1h-1zM850 314h1v1h-1zM851 313h1v1h-1zM852 311h1v2h-1zM853 310h1v1h-1zM854 309h1v1h-1zM855 308h1v1h-1zM856 307h3v1h-3zM859 306h4v1h-4zM863 305h13v1h-13zM876 306h8v1h-8zM884 307h5v1h-5zM889 308h1v1h-1zM890 309h1v2h-1zM891 311h1v1h-1zM892 312h1v1h-1zM893 313h1v1h-1zM894 314h1v2h-1zM895 316h1v1h-1zM896 317h1v1h-1zM897 318h1v1h-1zM898 319h1v1h-1zM899 320h1v1h-1zM900 321h1v2h-1zM901 323h1v1h-1zM902 324h1v1h-1zM903 325h1v1h-1zM904 326h1v1h-1zM905 327h1v2h-1zM906 329h1v1h-1zM907 330h1v2h-1zM908 332h1v1h-1zM909 333h1v2h-1zM910 335h1v1h-1zM911 336h1v2h-1zM912 338h1v1h-1zM913 339h1v1h-1zM914 340h1v1h-1zM915 341h1v1h-1zM916 342h2v1h-2zM918 343h1v1h-1zM919 344h1v1h-1zM920 345h1v1h-1zM921 346h1v1h-1zM922 347h1v1h-1zM923 348h1v1h-1zM924 349h1v1h-1zM925 350h1v1h-1zM926 351h1v1h-1zM927 352h1v1h-1zM928 353h1v1h-1zM929 354h1v1h-1zM930 355h1v1h-1zM931 356h1v1h-1zM932 357h2v1h-2zM934 358h1v1h-1zM935 359h1v1h-1zM936 360h1v1h-1zM937 361h1v1h-1zM938 362h2v1h-2zM940 363h1v1h-1zM941 364h1v1h-1zM942 365h2v1h-2zM944 366h1v1h-1zM945 367h1v1h-1zM946 368h1v1h-1zM947 369h1v1h-1zM948 370h1v1h-1zM949 371h1v1h-1zM950 372h1v1h-1zM951 373h1v1h-1zM952 374h1v1h-1zM953 375h2v1h-2zM955 376h2v1h-2zM957 377h2v1h-2zM959 378h2v1h-2zM961 379h1v1h-1zM962 380h1v1h-1zM963 381h1v1h-1zM964 382h2v1h-2zM966 383h1v1h-1zM967 384h1v1h-1zM968 385h1v1h-1zM969 386h1v1h-1zM970 387h1v1h-1zM971 388h1v1h-1zM972 389h1v2h-1zM973 391h1v1h-1zM974 392h1v1h-1zM975 393h1v1h-1zM976 394h1v1h-1zM977 395h1v1h-1zM978 396h1v1h-1zM979 397h1v1h-1zM980 398h1v2h-1zM981 400h1v1h-1zM982 401h1v1h-1zM983 402h1v1h-1zM984 403h2v1h-2zM986 404h2v1h-2zM988 405h3v1h-3zM991 406h3v1h-3zM994 407h4v1h-4zM998 408h4v1h-4zM1002 409h2v1h-2zM1004 410h3v1h-3zM1007 411h3v1h-3zM1010 412h4v1h-4zM1014 413h7v1h-7zM1021 412h6v1h-6zM1027 411h4v1h-4zM1031 410h6v1h-6zM1037 409h5v1h-5zM1042 408h2v1h-2zM1044 407h2v1h-2zM1046 406h2v1h-2zM1048 405h2v1h-2zM1050 404h3v1h-3zM1053 403h2v1h-2zM1055 402h3v1h-3zM1058 401h2v1h-2zM1060 400h2v1h-2zM1062 399h2v1h-2zM1064 398h1v1h-1zM1065 397h2v1h-2zM1067 396h2v1h-2zM1069 395h1v1h-1zM1070 394h2v1h-2zM1072 393h1v1h-1zM1073 392h2v1h-2zM1075 391h1v1h-1zM1076 390h1v1h-1zM1077 389h2v1h-2zM1079 388h1v1h-1zM1080 387h1v1h-1zM1081 386h1v1h-1zM1082 385h1v1h-1zM1083 384h2v1h-2zM1085 383h1v1h-1zM1086 382h1v1h-1zM1087 381h1v1h-1zM1088 380h1v1h-1zM1089 379h2v1h-2zM1091 378h1v1h-1zM1092 377h1v1h-1zM1093 376h2v1h-2zM1095 375h1v1h-1zM1096 374h36v1h-36zM1132 375h41v1h-41zM1173 374h5v1h-5zM1178 373h3v1h-3zM1181 372h2v1h-2zM1183 371h2v1h-2zM1185 370h2v1h-2zM1187 369h2v1h-2zM1189 368h1v1h-1zM1190 367h2v1h-2zM1192 366h11v1h-11zM1203 365h4v1h-4zM1207 364h12v1h-12zM1219 363h4v1h-4zM1223 362h5v1h-5zM1228 363h8v1h-8zM1236 364h6v1h-6zM1242 365h2v1h-2zM1244 366h3v1h-3zM1247 367h3v1h-3zM1250 368h2v1h-2zM1252 369h3v1h-3zM1255 370h3v1h-3zM1258 371h4v1h-4zM1262 372h7v1h-7zM1269 371h4v1h-4z" fill="#e620e6" shape-rendering="crispEdges"/>
<path d="M72 119h5v1h-5zM77 118h6v1h-6zM83 117h4v1h-4zM87 116h6v1h-6zM93 115h8v1h-8zM101 114h8v1h-8zM109 113h8v1h-8zM117 112h6v1h-6zM123 111h4v1h-4zM127 110h4v1h-4zM131 109h4v1h-4zM135 108h4v1h-4zM139 107h4v1h-4zM143 106h4v1h-4zM147 105h4v1h-4zM151 104h6v1h-6zM157 103h8v1h-8zM165 102h8v1h-8zM173 101h29v1h-29zM202 102h4v1h-4zM206 103h4v1h-4zM210 104h2v1h-2zM212 105h3v1h-3zM215 106h3v1h-3zM218 107h2v1h-2zM220 108h3v1h-3zM223 109h3v1h-3zM226 110h4v1h-4zM230 111h4v1h-4zM234 112h4v1h-4zM238 113h4v1h-4zM242 114h2v1h-2zM244 115h3v1h-3zM247 116h3v1h-3zM250 117h4v1h-4zM254 118h4v1h-4zM258 119h4v1h-4zM262 120h6v1h-6zM268 121h6v1h-6zM274 122h4v1h-4zM278 123h3v1h-3zM281 124h2v1h-2zM283 125h2v1h-2zM285 126h2v1h-2zM287 127h3v1h-3zM290 128h4v1h-4zM294 129h4v1h-4zM298 130h4v1h-4zM302 131h4v1h-4zM306 132h2v1h-2zM308 133h3v1h-3zM311 134h3v1h-3zM314 135h2v1h-2zM316 136h3v1h-3zM319 137h2v1h-2zM321 138h2v1h-2zM323 139h2v1h-2zM325 140h2v1h-2zM327 141h2v1h-2zM329 142h2v1h-2zM331 143h2v1h-2zM333 144h2v1h-2zM335 145h3v1h-3zM338 146h2v1h-2zM340 147h3v1h-3zM343 148h2v1h-2zM345 149h2v1h-2zM347 150h2v1h-2zM349 151h2v1h-2zM351 152h3v1h-3zM354 153h2v1h-2zM356 154h3v1h-3zM359 155h2v1h-2zM361 156h2v1h-2zM363 157h2v1h-2zM365 158h2v1h-2zM367 159h2v1h-2zM369 160h1v1h-1zM370 161h2v1h-2zM372 162h1v1h-1zM373 163h1v1h-1zM374 164h2v1h-2zM376 165h1v1h-1zM377 166h1v1h-1zM378 167h1v1h-1zM379 168h1v1h-1zM380 169h2v1h-2zM382 170h1v1h-1zM383 171h1v1h-1zM384 172h1v1h-1zM385 173h1v1h-1zM386 174h1v1h-1zM387 175h1v1h-1zM388 176h2v1h-2zM390 177h1v1h-1zM391 178h1v1h-1zM392 179h1v1h-1zM393 180h1v1h-1zM394 181h1v1h-1zM395 182h1v1h-1zM396 183h1v1h-1zM397 184h1v1h-1zM398 185h1v1h-1zM399 186h1v1h-1zM400 187h1v1h-1zM401 188h1v1h-1zM402 189h1v1h-1zM403 190h1v1h-1zM404 191h1v2h-1zM405 193h1v1h-1zM406 194h1v1h-1zM407 195h1v1h-1zM408 196h1v1h-1zM409 197h1v1h-1zM410 198h1v1h-1zM411 199h1v1h-1zM412 200h2v1h-2zM414 201h1v1h-1zM415 202h1v1h-1zM416 203h1v1h-1zM417 204h1v1h-1zM418 205h2v1h-2zM420 206h1v1h-1zM421 207h1v1h-1zM422 208h2v1h-2zM424 209h1v1h-1zM425 210h1v1h-1zM426 211h2v1h-2zM428 212h1v1h-1zM429 213h1v1h-1zM430 214h2v1h-2zM432 215h1v1h-1zM433 216h1v1h-1zM434 217h2v1h-2zM436 218h1v1h-1zM437 219h1v1h-1zM438 220h2v1h-2zM440 221h1v1h-1zM441 222h1v1h-1zM442 223h1v1h-1zM443 224h1v1h-1zM444 225h2v1h-2zM446 226h1v1h-1zM447 227h1v1h-1zM448 228h1v1h-1zM449 229h2v1h-2zM451 230h1v1h-1zM452 231h2v1h-2zM454 232h2v1h-2zM456 233h1v1h-1zM457 234h1v1h-1zM458 235h1v1h-1zM459 236h1v1h-1zM460 237h1v1h-1zM461 238h1v1h-1zM462 239h1v1h-1zM463 240h1v1h-1zM464 241h1v1h-1zM465 242h1v1h-1zM466 243h1v1h-1zM467 244h1v1h-1zM468 245h1v2h-1zM469 247h1v1h-1zM470 248h1v1h-1zM471 249h1v1h-1zM472 250h1v1h-1zM473 251h1v2h-1zM474 253h1v2h-1zM475 255h1v1h-1zM476 256h1v2h-1zM477 258h1v1h-1zM478 259h1v2h-1zM479 261h1v2h-1zM480 263h1v1h-1zM481 264h1v1h-1zM482 265h1v2h-1zM483 267h1v1h-1zM484 268h1v1h-1zM485 269h1v1h-1zM486 270h1v2h-1zM487 272h1v1h-1zM488 273h1v1h-1zM489 274h1v1h-1zM490 275h1v1h-1zM491 276h1v1h-1zM492 277h1v2h-1zM493 279h1v1h-1zM494 280h1v1h-1zM495 281h1v1h-1zM496 282h1v1h-1zM497 283h1v1h-1zM498 284h1v2h-1zM499 286h1v1h-1zM500 287h1v1h-1zM501 288h1v1h-1zM502 289h1v2h-1zM503 291h1v1h-1zM504 292h1v1h-1zM505 293h1v2h-1zM506 295h1v1h-1zM507 296h1v1h-1zM508 297h1v2h-1zM509 299h1v1h-1zM510 300h1v1h-1zM511 301h1v2h-1zM512 303h1v1h-1zM513 304h1v2h-1zM514 306h1v1h-1zM515 307h1v1h-1zM516 308h1v2h-1zM517 310h1v1h-1zM518 311h1v1h-1zM519 312h1v2h-1zM520 314h1v1h-1zM521 315h1v1h-1zM522 316h1v1h-1zM523 317h1v1h-1zM524 318h2v1h-2zM526 319h1v1h-1zM527 320h1v1h-1zM528 321h1v1h-1zM529 322h1v1h-1zM530 323h1v1h-1zM531 324h1v1h-1zM532 325h1v2h-1zM533 327h1v1h-1zM534 328h1v1h-1zM535 329h1v1h-1zM536 330h1v1h-1zM537 331h1v2h-1zM538 333h1v1h-1zM539 334h1v1h-1zM540 335h1v2h-1zM541 337h1v1h-1zM542 338h1v1h-1zM543 339h1v2h-1zM544 341h1v1h-1zM545 342h1v1h-1zM546 343h1v1h-1zM547 344h1v1h-1zM548 345h1v2h-1zM549 347h1v1h-1zM550 348h1v1h-1zM551 349h1v1h-1zM552 350h1v1h-1zM553 351h1v1h-1zM554 352h1v1h-1zM555 353h1v1h-1zM556 354h1v1h-1zM557 355h1v1h-1zM558 356h1v1h-1zM559 357h1v1h-1zM560 358h1v1h-1zM561 359h1v1h-1zM562 360h1v1h-1zM563 361h1v1h-1zM564 362h1v2h-1zM565 364h1v1h-1zM566 365h1v1h-1zM567 366h1v1h-1zM568 367h1v1h-1zM569 368h1v1h-1zM570 369h1v1h-1zM571 370h1v1h-1zM572 371h1v2h-1zM573 373h1v1h-1zM574 374h1v1h-1zM575 375h1v1h-1zM576 376h1v1h-1zM577 377h2v1h-2zM579 378h2v1h-2zM581 379h2v1h-2zM583 380h3v1h-3zM586 381h4v1h-4zM590 382h4v1h-4zM594 383h2v1h-2zM596 384h3v1h-3zM599 385h5v1h-5zM604 386h8v1h-8zM612 387h31v1h-31zM643 386h4v1h-4zM647 385h4v1h-4zM651 384h4v1h-4zM655 383h3v1h-3zM658 382h3v1h-3zM661 381h2v1h-2zM663 380h4v1h-4zM667 379h4v1h-4zM671 378h3v1h-3zM674 377h2v1h-2zM676 376h2v1h-2zM678 375h2v1h-2zM680 374h1v1h-1zM681 373h2v1h-2zM683 372h2v1h-2zM685 371h1v1h-1zM686 370h2v1h-2zM688 369h1v1h-1zM689 368h1v1h-1zM690 367h1v1h-1zM691 366h2v1h-2zM693 365h1v1h-1zM694 364h1v1h-1zM695 363h1v1h-1zM696 362h1v1h-1zM697 361h2v1h-2zM699 360h2v1h-2zM701 359h1v1h-1zM702 358h2v1h-2zM704 357h1v1h-1zM705 356h2v1h-2zM707 355h2v1h-2zM709 354h1v1h-1zM710 353h2v1h-2zM712 352h2v1h-2zM714 351h2v1h-2zM716 350h2v1h-2zM718 349h2v1h-2zM720 348h2v1h-2zM722 347h2v1h-2zM724 346h2v1h-2zM726 345h2v1h-2zM728 344h1v1h-1zM729 343h2v1h-2zM731 342h2v1h-2zM733 341h1v1h-1zM734 340h2v1h-2zM736 339h2v1h-2zM738 338h2v1h-2zM740 337h2v1h-2zM742 336h2v1h-2zM744 335h1v1h-1zM745 334h2v1h-2zM747 333h1v1h-1zM748 332h1v1h-1zM749 331h2v1h-2zM751 330h1v1h-1zM752 329h1v1h-1zM753 328h2v1h-2zM755 327h1v1h-1zM756 326h1v1h-1zM757 325h2v1h-2zM759 324h1v1h-1zM760 323h1v1h-1zM761 322h2v1h-2zM763 321h1v1h-1zM764 320h1v1h-1zM765 319h2v1h-2zM767 318h1v1h-1zM768 317h1v1h-1zM769 316h2v1h-2zM771 315h1v1h-1zM772 314h1v1h-1zM773 313h2v1h-2zM775 312h1v1h-1zM776 311h1v1h-1zM777 310h2v1h-2zM779 309h2v1h-2zM781 308h1v1h-1zM782 307h2v1h-2zM784 306h1v1h-1zM785 305h1v1h-1zM786 304h1v1h-1zM787 303h2v1h-2zM789 302h1v1h-1zM790 301h1v1h-1zM791 300h1v1h-1zM792 299h2v1h-2zM794 298h2v1h-2zM796 297h2v1h-2zM798 296h2v1h-2zM800 295h1v1h-1zM801 294h2v1h-2zM803 293h1v1h-1zM804 292h1v1h-1zM805 291h2v1h-2zM807 290h1v1h-1zM808 289h2v1h-2zM810 288h3v1h-3zM813 287h2v1h-2zM815 286h2v1h-2zM817 285h2v1h-2zM819 284h1v1h-1zM820 283h1v1h-1zM821 282h2v1h-2zM823 281h1v1h-1zM824 280h3v1h-3zM827 279h4v1h-4zM831 278h3v1h-3zM834 277h3v1h-3zM837 276h2v1h-2zM839 275h6v1h-6zM845 274h5v1h-5zM850 273h3v1h-3zM853 272h2v1h-2zM855 271h4v1h-4zM859 270h4v1h-4zM863 269h14v1h-14zM877 268h7v1h-7zM884 269h13v1h-13zM897 270h2v1h-2zM899 271h2v1h-2zM901 272h2v1h-2zM903 273h3v1h-3zM906 274h2v1h-2zM908 275h3v1h-3zM911 276h3v1h-3zM914 277h2v1h-2zM916 278h3v1h-3zM919 279h5v1h-5zM924 280h6v1h-6zM930 281h2v1h-2zM932 282h3v1h-3zM935 283h5v1h-5zM940 284h6v1h-6zM946 285h2v1h-2zM948 286h3v1h-3zM951 287h3v1h-3zM954 288h4v1h-4zM958 289h3v1h-3zM961 290h2v1h-2zM963 291h2v1h-2zM965 292h2v1h-2zM967 293h2v1h-2zM969 294h2v1h-2zM971 295h2v1h-2zM973 296h2v1h-2zM975 297h2v1h-2zM977 298h2v1h-2zM979 299h1v1h-1zM980 300h2v1h-2zM982 301h2v1h-2zM984 302h1v1h-1zM985 303h2v1h-2zM987 304h1v1h-1zM988 305h2v1h-2zM990 306h2v1h-2zM992 307h1v1h-1zM993 308h2v1h-2zM995 309h1v1h-1zM996 310h2v1h-2zM998 311h2v1h-2zM1000 312h2v1h-2zM1002 313h2v1h-2zM1004 314h3v1h-3zM1007 315h2v1h-2zM1009 316h2v1h-2zM1011 317h2v1h-2zM1013 318h2v1h-2zM1015 319h3v1h-3zM1018 320h2v1h-2zM1020 321h3v1h-3zM1023 322h2v1h-2zM1025 323h2v1h-2zM1027 324h2v1h-2zM1029 325h2v1h-2zM1031 326h2v1h-2zM1033 327h2v1h-2zM1035 328h2v1h-2zM1037 329h2v1h-2zM1039 330h3v1h-3zM1042 331h2v1h-2zM1044 332h3v1h-3zM1047 333h2v1h-2zM1049 334h2v1h-2zM1051 335h2v1h-2zM1053 336h2v1h-2zM1055 337h3v1h-3zM1058 338h2v1h-2zM1060 339h3v1h-3zM1063 340h3v1h-3zM1066 341h2v1h-2zM1068 342h3v1h-3zM1071 343h3v1h-3zM1074 344h4v1h-4zM1078 345h4v1h-4zM1082 346h4v1h-4zM1086 347h6v1h-6zM1092 348h6v1h-6zM1098 349h4v1h-4zM1102 350h15v1h-15zM1117 349h16v1h-16zM1133 348h8v1h-8zM1141 347h8v1h-8zM1149 346h8v1h-8zM1157 345h8v1h-8zM1165 344h8v1h-8zM1173 343h6v1h-6zM1179 342h4v1h-4zM1183 341h3v1h-3zM1186 340h2v1h-2zM1188 339h2v1h-2zM1190 338h2v1h-2zM1192 337h5v1h-5zM1197 336h8v1h-8zM1205 335h6v1h-6zM1211 334h4v1h-4zM1215 333h6v1h-6zM1221 332h6v1h-6zM1227 331h4v1h-4zM1231 330h3v1h-3zM1234 329h3v1h-3zM1237 328h2v1h-2zM1239 327h3v1h-3zM1242 326h2v1h-2zM1244 325h2v1h-2zM1246 324h2v1h-2zM1248 323h2v1h-2zM1250 322h3v1h-3zM1253 321h2v1h-2zM1255 320h3v1h-3zM1258 319h3v1h-3zM1261 318h2v1h-2zM1263 317h4v1h-4zM1267 316h4v1h-4zM1271 315h2v1h-2z" fill="#e8e8e8" shape-rendering="crispEdges"/>
<path d="M72 92h1v1h-1zM73 91h2v1h-2zM75 90h1v1h-1zM76 89h1v1h-1zM77 88h2v1h-2zM79 87h1v1h-1zM80 86h1v1h-1zM81 85h2v1h-2zM83 84h2v1h-2zM85 83h1v1h-1zM86 82h2v1h-2zM88 81h3v1h-3zM91 80h4v1h-4zM95 79h3v1h-3zM98 78h3v1h-3zM101 77h2v1h-2zM103 76h4v1h-4zM107 75h4v1h-4zM111 74h4v1h-4zM115 73h4v1h-4zM119 72h4v1h-4zM123 71h4v1h-4zM127 70h6v1h-6zM133 69h15v1h-15zM148 70h14v1h-14zM162 71h4v1h-4zM166 72h6v1h-6zM172 73h8v1h-8zM180 74h8v1h-8zM188 75h9v1h-9zM197 74h6v1h-6zM203 73h4v1h-4zM207 72h2v1h-2zM209 71h1v1h-1zM210 70h1v1h-1zM211 69h1v1h-1zM212 68h1v1h-1zM213 67h1v1h-1zM214 66h1v1h-1zM215 65h1v1h-1zM216 64h1v1h-1zM217 63h2v1h-2zM219 62h1v1h-1zM220 61h1v1h-1zM221 60h2v1h-2zM223 59h1v1h-1zM224 58h2v1h-2zM226 57h2v1h-2zM228 56h2v1h-2zM230 55h2v1h-2zM232 54h2v1h-2zM234 53h3v1h-3zM237 52h2v1h-2zM239 51h4v1h-4zM243 50h4v1h-4zM247 49h6v1h-6zM253 48h16v1h-16zM269 47h7v1h-7zM276 48h6v1h-6zM282 49h2v1h-2zM284 50h3v1h-3zM287 51h3v1h-3zM290 52h2v1h-2zM292 53h3v1h-3zM295 54h2v1h-2zM297 55h2v1h-2zM299 56h2v1h-2zM301 57h2v1h-2zM303 58h2v1h-2zM305 59h2v1h-2zM307 60h1v1h-1zM308 61h2v1h-2zM310 62h2v1h-2zM312 63h1v1h-1zM313 64h2v1h-2zM315 65h2v1h-2zM317 66h2v1h-2zM319 67h2v1h-2zM321 68h2v1h-2zM323 69h2v1h-2zM325 70h2v1h-2zM327 71h2v1h-2zM329 72h2v1h-2zM331 73h2v1h-2zM333 74h2v1h-2zM335 75h2v1h-2zM337 76h1v1h-1zM338 77h2v1h-2zM340 78h1v1h-1zM341 79h1v1h-1zM342 80h2v1h-2zM344 81h1v1h-1zM345 82h1v1h-1zM346 83h1v1h-1zM347 84h1v1h-1zM348 85h2v1h-2zM350 86h1v1h-1zM351 87h1v1h-1zM352 88h1v1h-1zM353 89h1v1h-1zM354 90h1v1h-1zM355 91h1v1h-1zM356 92h2v1h-2zM358 93h1v1h-1zM359 94h1v1h-1zM360 95h1v1h-1zM361 96h2v1h-2zM363 97h1v1h-1zM364 98h2v1h-2zM366 99h2v1h-2zM368 100h2v1h-2zM370 101h4v1h-4zM374 102h4v1h-4zM378 101h2v1h-2zM380 100h2v1h-2zM382 99h2v1h-2zM384 98h1v1h-1zM385 97h2v1h-2zM387 96h1v1h-1zM388 95h1v1h-1zM389 94h2v1h-2zM391 93h1v1h-1zM392 92h1v1h-1zM393 91h1v1h-1zM394 90h1v1h-1zM395 89h2v1h-2zM397 88h1v1h-1zM398 87h1v1h-1zM399 86h1v1h-1zM400 85h2v1h-2zM402 84h3v1h-3zM405 83h2v1h-2zM407 82h5v1h-5zM412 83h6v1h-6zM418 82h3v1h-3zM421 81h2v1h-2zM423 80h4v1h-4zM427 79h4v1h-4zM431 78h6v1h-6zM437 77h7v1h-7zM444 78h8v1h-8zM452 79h8v1h-8zM460 80h8v1h-8zM468 81h5v1h-5zM473 80h1v1h-1zM474 79h1v1h-1zM475 78h2v1h-2zM477 77h1v1h-1zM478 76h1v1h-1zM479 75h1v1h-1zM480 74h1v1h-1zM481 75h2v1h-2zM483 76h2v1h-2zM485 77h2v1h-2zM487 78h2v1h-2zM489 79h1v1h-1zM490 80h1v1h-1zM491 81h1v1h-1zM492 82h1v1h-1zM493 83h1v1h-1zM494 84h1v1h-1zM495 85h1v1h-1zM496 86h1v1h-1zM497 87h1v2h-1zM498 89h1v1h-1zM499 90h1v1h-1zM500 91h1v2h-1zM501 93h1v1h-1zM502 94h1v1h-1zM503 95h1v2h-1zM504 97h1v1h-1zM505 98h1v2h-1zM506 100h1v2h-1zM507 102h1v2h-1zM508 104h1v2h-1zM509 106h1v2h-1zM510 108h1v2h-1zM511 110h1v2h-1zM512 112h1v2h-1zM513 114h1v2h-1zM514 116h1v2h-1zM515 118h1v2h-1zM516 120h1v2h-1zM517 122h1v2h-1zM518 124h1v2h-1zM519 126h1v2h-1zM520 128h1v2h-1zM521 130h1v2h-1zM522 132h1v2h-1zM523 134h1v2h-1zM524 136h1v2h-1zM525 138h1v2h-1zM526 140h1v2h-1zM527 142h1v2h-1zM528 144h1v2h-1zM529 146h1v2h-1zM530 148h1v2h-1zM531 150h1v2h-1zM532 152h1v1h-1zM533 153h1v2h-1zM534 155h1v2h-1zM535 157h1v2h-1zM536 159h1v1h-1zM537 160h1v2h-1zM538 162h1v2h-1zM539 164h1v2h-1zM540 166h1v1h-1zM541 167h1v2h-1zM542 169h1v2h-1zM543 171h1v2h-1zM544 173h1v2h-1zM545 175h1v2h-1zM546 177h1v2h-1zM547 179h1v2h-1zM548 181h1v2h-1zM549 183h1v2h-1zM550 185h1v2h-1zM551 187h1v2h-1zM552 189h1v3h-1zM553 192h1v2h-1zM554 194h1v2h-1zM555 196h1v2h-1zM556 198h1v3h-1zM557 201h1v2h-1zM558 203h1v2h-1zM559 205h1v2h-1zM560 207h1v3h-1zM561 210h1v4h-1zM562 214h1v3h-1zM563 217h1v3h-1zM564 220h1v4h-1zM565 224h1v3h-1zM566 227h1v3h-1zM567 230h1v4h-1zM568 234h1v3h-1zM569 237h1v4h-1zM570 241h1v4h-1zM571 245h1v4h-1zM572 249h1v3h-1zM573 252h1v4h-1zM574 256h1v4h-1zM575 260h1v4h-1zM576 264h1v2h-1zM577 266h1v2h-1zM578 268h1v2h-1zM579 270h1v2h-1zM580 272h1v2h-1zM581 274h1v2h-1zM582 276h1v2h-1zM583 278h1v2h-1zM584 280h1v1h-1zM585 281h1v1h-1zM586 282h1v1h-1zM587 283h1v1h-1zM588 284h1v1h-1zM589 285h1v1h-1zM590 286h1v1h-1zM591 287h1v1h-1zM592 288h1v1h-1zM593 289h1v1h-1zM594 290h2v1h-2zM596 291h1v1h-1zM597 292h1v1h-1zM598 293h2v1h-2zM600 294h1v1h-1zM601 295h1v1h-1zM602 296h1v1h-1zM603 297h1v1h-1zM604 298h2v1h-2zM606 299h1v1h-1zM607 300h1v1h-1zM608 301h2v1h-2zM610 302h4v1h-4zM614 303h4v1h-4zM618 304h4v1h-4zM622 305h7v1h-7zM629 304h6v1h-6zM635 303h4v1h-4zM639 302h6v1h-6zM645 301h5v1h-5zM650 300h2v1h-2zM652 299h2v1h-2zM654 298h2v1h-2zM656 297h1v1h-1zM657 296h1v1h-1zM658 294h1v2h-1zM659 293h1v1h-1zM660 292h1v1h-1zM661 291h1v1h-1zM662 289h1v2h-1zM663 288h1v1h-1zM664 287h1v1h-1zM665 285h1v2h-1zM666 284h1v1h-1zM667 282h1v2h-1zM668 281h1v1h-1zM669 279h1v2h-1zM670 278h1v1h-1zM671 276h1v2h-1zM672 275h1v1h-1zM673 273h1v2h-1zM674 272h1v1h-1zM675 270h1v2h-1zM676 269h1v1h-1zM677 267h1v2h-1zM678 266h1v1h-1zM679 264h1v2h-1zM680 263h1v1h-1zM681 262h1v1h-1zM682 261h1v1h-1zM683 260h2v1h-2zM685 259h1v1h-1zM686 258h1v1h-1zM687 257h1v1h-1zM688 256h1v1h-1zM689 255h1v1h-1zM690 254h1v1h-1zM691 253h1v1h-1zM692 252h1v1h-1zM693 251h1v1h-1zM694 250h1v1h-1zM695 249h1v1h-1zM696 248h1v1h-1zM697 247h2v1h-2zM699 246h1v1h-1zM700 245h1v1h-1zM701 244h2v1h-2zM703 243h1v1h-1zM704 242h1v1h-1zM705 241h2v1h-2zM707 240h2v1h-2zM709 239h1v1h-1zM710 238h2v1h-2zM712 237h2v1h-2zM714 236h2v1h-2zM716 235h2v1h-2zM718 234h2v1h-2zM720 233h2v1h-2zM722 232h2v1h-2zM724 231h2v1h-2zM726 230h2v1h-2zM728 229h3v1h-3zM731 228h4v1h-4zM735 227h6v1h-6zM741 226h6v1h-6zM747 225h4v1h-4zM751 224h6v1h-6zM757 223h8v1h-8zM765 222h7v1h-7zM772 223h5v1h-5zM777 224h2v1h-2zM779 225h2v1h-2zM781 226h2v1h-2zM783 227h3v1h-3zM786 226h3v1h-3zM789 225h2v1h-2zM791 224h3v1h-3zM794 225h4v1h-4zM798 226h4v1h-4zM802 227h2v1h-2zM804 228h3v1h-3zM807 229h5v1h-5zM812 230h9v1h-9zM821 229h8v1h-8zM829 228h21v1h-21zM850 229h2v1h-2zM852 230h3v1h-3zM855 231h5v1h-5zM860 232h30v1h-30zM890 231h2v1h-2zM892 230h2v1h-2zM894 229h2v1h-2zM896 228h1v1h-1zM897 227h2v1h-2zM899 226h2v1h-2zM901 225h1v1h-1zM902 224h2v1h-2zM904 223h2v1h-2zM906 222h2v1h-2zM908 221h2v1h-2zM910 220h2v1h-2zM912 219h1v1h-1zM913 218h2v1h-2zM915 217h2v1h-2zM917 216h1v1h-1zM918 215h2v1h-2zM920 214h3v1h-3zM923 213h4v1h-4zM927 212h3v1h-3zM930 211h3v1h-3zM933 210h2v1h-2zM935 209h3v1h-3zM938 208h3v1h-3zM941 207h2v1h-2zM943 206h4v1h-4zM947 205h4v1h-4zM951 204h4v1h-4zM955 203h4v1h-4zM959 202h26v1h-26zM985 203h2v1h-2zM987 204h2v1h-2zM989 205h2v1h-2zM991 206h2v1h-2zM993 207h1v1h-1zM994 208h2v1h-2zM996 209h1v1h-1zM997 210h1v1h-1zM998 211h2v1h-2zM1000 212h1v1h-1zM1001 213h2v1h-2zM1003 214h1v1h-1zM1004 215h2v1h-2zM1006 216h2v1h-2zM1008 217h1v1h-1zM1009 218h1v1h-1zM1010 219h1v1h-1zM1011 220h1v1h-1zM1012 221h2v1h-2zM1014 222h1v1h-1zM1015 223h1v1h-1zM1016 224h1v1h-1zM1017 225h1v1h-1zM1018 226h1v1h-1zM1019 227h1v1h-1zM1020 228h1v2h-1zM1021 230h1v1h-1zM1022 231h1v1h-1zM1023 232h1v1h-1zM1024 233h1v1h-1zM1025 234h1v1h-1zM1026 235h1v2h-1zM1027 237h1v1h-1zM1028 238h1v1h-1zM1029 239h1v1h-1zM1030 240h1v2h-1zM1031 242h1v1h-1zM1032 243h1v1h-1zM1033 244h1v1h-1zM1034 245h1v1h-1zM1035 246h1v1h-1zM1036 247h1v2h-1zM1037 249h1v1h-1zM1038 250h1v1h-1zM1039 251h1v1h-1zM1040 252h1v1h-1zM1041 253h1v1h-1zM1042 254h1v2h-1zM1043 256h1v1h-1zM1044 257h1v1h-1zM1045 258h1v1h-1zM1046 259h1v2h-1zM1047 261h1v1h-1zM1048 262h1v1h-1zM1049 263h1v1h-1zM1050 264h1v2h-1zM1051 266h1v1h-1zM1052 267h1v1h-1zM1053 268h1v1h-1zM1054 269h1v2h-1zM1055 271h1v1h-1zM1056 272h1v1h-1zM1057 273h1v1h-1zM1058 274h1v2h-1zM1059 276h1v1h-1zM1060 277h1v1h-1zM1061 278h1v1h-1zM1062 279h1v2h-1zM1063 281h1v1h-1zM1064 282h1v1h-1zM1065 283h1v1h-1zM1066 284h1v1h-1zM1067 285h1v1h-1zM1068 286h1v1h-1zM1069 287h1v1h-1zM1070 288h1v1h-1zM1071 289h1v1h-1zM1072 290h1v1h-1zM1073 291h1v2h-1zM1074 293h1v1h-1zM1075 294h1v1h-1zM1076 295h1v2h-1zM1077 297h1v1h-1zM1078 298h1v1h-1zM1079 299h1v2h-1zM1080 301h1v1h-1zM1081 302h1v2h-1zM1082 304h1v1h-1zM1083 305h1v2h-1zM1084 307h1v1h-1zM1085 308h1v2h-1zM1086 310h1v1h-1zM1087 311h1v2h-1zM1088 313h1v1h-1zM1089 314h1v2h-1zM1090 316h1v1h-1zM1091 317h1v1h-1zM1092 318h1v2h-1zM1093 320h1v1h-1zM1094 321h1v1h-1zM1095 322h1v2h-1zM1096 324h12v1h-12zM1108 325h17v1h-17zM1125 324h6v1h-6zM1131 323h4v1h-4zM1135 322h4v1h-4zM1139 321h4v1h-4zM1143 320h3v1h-3zM1146 319h3v1h-3zM1149 318h2v1h-2zM1151 317h6v1h-6zM1157 316h5v1h-5zM1162 315h3v1h-3zM1165 314h2v1h-2zM1167 313h6v1h-6zM1173 312h5v1h-5zM1178 311h2v1h-2zM1180 310h2v1h-2zM1182 309h2v1h-2zM1184 308h5v1h-5zM1189 307h8v1h-8zM1197 306h8v1h-8zM1205 305h8v1h-8zM1213 304h6v1h-6zM1219 303h4v1h-4zM1223 302h2v1h-2zM1225 301h2v1h-2zM1227 300h2v1h-2zM1229 299h1v1h-1zM1230 298h2v1h-2zM1232 297h1v1h-1zM1233 296h1v1h-1zM1234 295h1v1h-1zM1235 294h2v1h-2zM1237 293h1v1h-1zM1238 292h1v1h-1zM1239 291h1v1h-1zM1240 290h1v1h-1zM1241 289h1v1h-1zM1242 287h1v2h-1zM1243 286h1v1h-1zM1244 285h1v1h-1zM1245 284h1v1h-1zM1246 282h1v2h-1zM1247 281h1v1h-1zM1248 280h1v1h-1zM1249 279h1v1h-1zM1250 277h1v2h-1zM1251 276h1v1h-1zM1252 275h1v1h-1zM1253 274h1v1h-1zM1254 272h1v2h-1zM1255 271h1v1h-1zM1256 270h1v1h-1zM1257 269h1v1h-1zM1258 268h1v1h-1zM1259 267h1v1h-1zM1260 266h1v1h-1zM1261 265h1v1h-1zM1262 264h1v1h-1zM1263 263h1v1h-1zM1264 262h2v1h-2zM1266 261h2v1h-2zM1268 260h2v1h-2zM1270 259h2v1h-2zM1272 258h1v1h-1z" fill="#e6e628" shape-rendering="crispEdges"/>
<g shape-rendering="crispEdges" fill="#f0f0f0"><rect x="86" y="70" width="7" height="1"/><rect x="88" y="68" width="1" height="5"/></g>
<text x="93.3" y="66.5" fill="#eb505f" font-size="12.5" font-weight="bold" text-anchor="start" textLength="45" lengthAdjust="spacingAndGlyphs">99.4979</text>
<g shape-rendering="crispEdges" fill="#f0f0f0"><rect x="822" y="225" width="7" height="1"/><rect x="824" y="223" width="1" height="5"/></g>
<text x="829.3" y="222" fill="#eb505f" font-size="12.5" font-weight="bold" text-anchor="start" textLength="45" lengthAdjust="spacingAndGlyphs">98.0312</text>
<g shape-rendering="crispEdges" fill="#f0f0f0"><rect x="478" y="488" width="7" height="1"/><rect x="480" y="486" width="1" height="5"/></g>
<text x="485.2" y="499.5" fill="#58bc8c" font-size="12.5" font-weight="bold" text-anchor="start" textLength="45.6" lengthAdjust="spacingAndGlyphs">95.5625</text>
<g shape-rendering="crispEdges" fill="#f0f0f0"><rect x="990" y="389" width="7" height="1"/><rect x="992" y="387" width="1" height="5"/></g>
<text x="997" y="401" fill="#58bc8c" font-size="12.5" font-weight="bold" text-anchor="start" textLength="44.2" lengthAdjust="spacingAndGlyphs">96.4911</text>
<g shape-rendering="crispEdges" fill="#f0f0f0"><rect x="1258" y="252" width="8" height="1"/><rect x="1264" y="250" width="1" height="5"/></g>
<text x="1212.5" y="249" fill="#eb505f" font-size="12.5" font-weight="bold" text-anchor="start" textLength="44.8" lengthAdjust="spacingAndGlyphs">97.7789</text>
<g shape-rendering="crispEdges">
<rect x="72" y="607" width="1" height="4" fill="#58bc8c"/>
<rect x="80" y="603" width="1" height="5" fill="#eb505f"/>
<rect x="88" y="601" width="1" height="7" fill="#eb505f"/>
<rect x="96" y="600" width="1" height="8" fill="#eb505f"/>
<rect x="104" y="600" width="1" height="8" fill="#eb505f"/>
<rect x="112" y="602" width="1" height="6" fill="#eb505f"/>
<rect x="120" y="604" width="1" height="4" fill="#eb505f"/>
<rect x="128" y="607" width="1" height="2" fill="#58bc8c"/>
<rect x="136" y="605" width="1" height="3" fill="#eb505f"/>
<rect x="144" y="606" width="1" height="2" fill="#eb505f"/>
<rect x="152" y="607" width="1" height="5" fill="#58bc8c"/>
<rect x="160" y="607" width="1" height="10" fill="#58bc8c"/>
<rect x="168" y="607" width="1" height="12" fill="#58bc8c"/>
<rect x="176" y="607" width="1" height="13" fill="#58bc8c"/>
<rect x="184" y="607" width="1" height="18" fill="#58bc8c"/>
<rect x="192" y="607" width="1" height="19" fill="#58bc8c"/>
<rect x="200" y="607" width="1" height="19" fill="#58bc8c"/>
<rect x="208" y="607" width="1" height="21" fill="#58bc8c"/>
<rect x="216" y="607" width="1" height="32" fill="#58bc8c"/>
<rect x="224" y="607" width="1" height="37" fill="#58bc8c"/>
<rect x="232" y="607" width="1" height="39" fill="#58bc8c"/>
<rect x="240" y="607" width="1" height="37" fill="#58bc8c"/>
<rect x="248" y="607" width="1" height="33" fill="#58bc8c"/>
<rect x="256" y="607" width="1" height="28" fill="#58bc8c"/>
<rect x="264" y="607" width="1" height="21" fill="#58bc8c"/>
<rect x="272" y="607" width="1" height="20" fill="#58bc8c"/>
<rect x="280" y="607" width="1" height="13" fill="#58bc8c"/>
<rect x="288" y="607" width="1" height="5" fill="#58bc8c"/>
<rect x="296" y="605" width="1" height="3" fill="#eb505f"/>
<rect x="304" y="602" width="1" height="6" fill="#eb505f"/>
<rect x="312" y="599" width="1" height="9" fill="#eb505f"/>
<rect x="320" y="601" width="1" height="7" fill="#eb505f"/>
<rect x="328" y="607" width="1" height="3" fill="#58bc8c"/>
<rect x="336" y="607" width="1" height="9" fill="#58bc8c"/>
<rect x="344" y="607" width="1" height="10" fill="#58bc8c"/>
<rect x="352" y="607" width="1" height="10" fill="#58bc8c"/>
<rect x="360" y="607" width="1" height="9" fill="#58bc8c"/>
<rect x="368" y="607" width="1" height="7" fill="#58bc8c"/>
<rect x="376" y="607" width="1" height="20" fill="#58bc8c"/>
<rect x="384" y="607" width="1" height="32" fill="#58bc8c"/>
<rect x="392" y="607" width="1" height="47" fill="#58bc8c"/>
<rect x="400" y="607" width="1" height="55" fill="#58bc8c"/>
<rect x="408" y="607" width="1" height="57" fill="#58bc8c"/>
<rect x="416" y="607" width="1" height="51" fill="#58bc8c"/>
<rect x="424" y="607" width="1" height="47" fill="#58bc8c"/>
<rect x="432" y="607" width="1" height="41" fill="#58bc8c"/>
<rect x="440" y="607" width="1" height="33" fill="#58bc8c"/>
<rect x="448" y="607" width="1" height="24" fill="#58bc8c"/>
<rect x="456" y="607" width="1" height="20" fill="#58bc8c"/>
<rect x="464" y="607" width="1" height="22" fill="#58bc8c"/>
<rect x="472" y="607" width="1" height="32" fill="#58bc8c"/>
<rect x="480" y="607" width="1" height="45" fill="#58bc8c"/>
<rect x="488" y="607" width="1" height="41" fill="#58bc8c"/>
<rect x="496" y="607" width="1" height="36" fill="#58bc8c"/>
<rect x="504" y="607" width="1" height="27" fill="#58bc8c"/>
<rect x="512" y="607" width="1" height="14" fill="#58bc8c"/>
<rect x="520" y="606" width="1" height="2" fill="#eb505f"/>
<rect x="528" y="598" width="1" height="10" fill="#eb505f"/>
<rect x="536" y="593" width="1" height="15" fill="#eb505f"/>
<rect x="544" y="593" width="1" height="15" fill="#eb505f"/>
<rect x="552" y="586" width="1" height="22" fill="#eb505f"/>
<rect x="560" y="582" width="1" height="26" fill="#eb505f"/>
<rect x="568" y="580" width="1" height="28" fill="#eb505f"/>
<rect x="576" y="581" width="1" height="27" fill="#eb505f"/>
<rect x="584" y="571" width="1" height="37" fill="#eb505f"/>
<rect x="592" y="566" width="1" height="42" fill="#eb505f"/>
<rect x="600" y="560" width="1" height="48" fill="#eb505f"/>
<rect x="608" y="557" width="1" height="51" fill="#eb505f"/>
<rect x="616" y="550" width="1" height="58" fill="#eb505f"/>
<rect x="624" y="544" width="1" height="64" fill="#eb505f"/>
<rect x="632" y="544" width="1" height="64" fill="#eb505f"/>
<rect x="640" y="544" width="1" height="64" fill="#eb505f"/>
<rect x="648" y="548" width="1" height="60" fill="#eb505f"/>
<rect x="656" y="545" width="1" height="63" fill="#eb505f"/>
<rect x="664" y="544" width="1" height="64" fill="#eb505f"/>
<rect x="672" y="544" width="1" height="64" fill="#eb505f"/>
<rect x="680" y="551" width="1" height="57" fill="#eb505f"/>
<rect x="688" y="557" width="1" height="51" fill="#eb505f"/>
<rect x="696" y="562" width="1" height="46" fill="#eb505f"/>
<rect x="704" y="568" width="1" height="40" fill="#eb505f"/>
<rect x="712" y="578" width="1" height="30" fill="#eb505f"/>
<rect x="720" y="586" width="1" height="22" fill="#eb505f"/>
<rect x="728" y="594" width="1" height="14" fill="#eb505f"/>
<rect x="736" y="600" width="1" height="8" fill="#eb505f"/>
<rect x="744" y="601" width="1" height="7" fill="#eb505f"/>
<rect x="752" y="604" width="1" height="4" fill="#eb505f"/>
<rect x="760" y="601" width="1" height="7" fill="#eb505f"/>
<rect x="768" y="600" width="1" height="8" fill="#eb505f"/>
<rect x="776" y="601" width="1" height="7" fill="#eb505f"/>
<rect x="784" y="599" width="1" height="9" fill="#eb505f"/>
<rect x="792" y="595" width="1" height="13" fill="#eb505f"/>
<rect x="800" y="601" width="1" height="7" fill="#eb505f"/>
<rect x="808" y="602" width="1" height="6" fill="#eb505f"/>
<rect x="816" y="599" width="1" height="9" fill="#eb505f"/>
<rect x="824" y="601" width="1" height="7" fill="#eb505f"/>
<rect x="832" y="605" width="1" height="3" fill="#eb505f"/>
<rect x="840" y="606" width="1" height="2" fill="#eb505f"/>
<rect x="848" y="607" width="1" height="5" fill="#58bc8c"/>
<rect x="856" y="607" width="1" height="12" fill="#58bc8c"/>
<rect x="864" y="607" width="1" height="13" fill="#58bc8c"/>
<rect x="872" y="607" width="1" height="18" fill="#58bc8c"/>
<rect x="880" y="607" width="1" height="21" fill="#58bc8c"/>
<rect x="888" y="607" width="1" height="25" fill="#58bc8c"/>
<rect x="896" y="607" width="1" height="37" fill="#58bc8c"/>
<rect x="904" y="607" width="1" height="45" fill="#58bc8c"/>
<rect x="912" y="607" width="1" height="50" fill="#58bc8c"/>
<rect x="920" y="607" width="1" height="49" fill="#58bc8c"/>
<rect x="928" y="607" width="1" height="47" fill="#58bc8c"/>
<rect x="936" y="607" width="1" height="44" fill="#58bc8c"/>
<rect x="944" y="607" width="1" height="39" fill="#58bc8c"/>
<rect x="952" y="607" width="1" height="34" fill="#58bc8c"/>
<rect x="960" y="607" width="1" height="29" fill="#58bc8c"/>
<rect x="968" y="607" width="1" height="26" fill="#58bc8c"/>
<rect x="976" y="607" width="1" height="26" fill="#58bc8c"/>
<rect x="984" y="607" width="1" height="25" fill="#58bc8c"/>
<rect x="992" y="607" width="1" height="13" fill="#58bc8c"/>
<rect x="1000" y="607" width="1" height="9" fill="#58bc8c"/>
<rect x="1008" y="607" width="1" height="2" fill="#58bc8c"/>
<rect x="1016" y="605" width="1" height="3" fill="#eb505f"/>
<rect x="1024" y="600" width="1" height="8" fill="#eb505f"/>
<rect x="1032" y="600" width="1" height="8" fill="#eb505f"/>
<rect x="1040" y="600" width="1" height="8" fill="#eb505f"/>
<rect x="1048" y="595" width="1" height="13" fill="#eb505f"/>
<rect x="1056" y="594" width="1" height="14" fill="#eb505f"/>
<rect x="1064" y="592" width="1" height="16" fill="#eb505f"/>
<rect x="1072" y="589" width="1" height="19" fill="#eb505f"/>
<rect x="1080" y="588" width="1" height="20" fill="#eb505f"/>
<rect x="1088" y="592" width="1" height="16" fill="#eb505f"/>
<rect x="1096" y="595" width="1" height="13" fill="#eb505f"/>
<rect x="1104" y="598" width="1" height="10" fill="#eb505f"/>
<rect x="1112" y="597" width="1" height="11" fill="#eb505f"/>
<rect x="1120" y="597" width="1" height="11" fill="#eb505f"/>
<rect x="1128" y="596" width="1" height="12" fill="#eb505f"/>
<rect x="1136" y="595" width="1" height="13" fill="#eb505f"/>
<rect x="1144" y="593" width="1" height="15" fill="#eb505f"/>
<rect x="1152" y="593" width="1" height="15" fill="#eb505f"/>
<rect x="1160" y="593" width="1" height="15" fill="#eb505f"/>
<rect x="1168" y="594" width="1" height="14" fill="#eb505f"/>
<rect x="1176" y="595" width="1" height="13" fill="#eb505f"/>
<rect x="1184" y="590" width="1" height="18" fill="#eb505f"/>
<rect x="1192" y="590" width="1" height="18" fill="#eb505f"/>
<rect x="1200" y="595" width="1" height="13" fill="#eb505f"/>
<rect x="1208" y="596" width="1" height="12" fill="#eb505f"/>
<rect x="1216" y="598" width="1" height="10" fill="#eb505f"/>
<rect x="1224" y="598" width="1" height="10" fill="#eb505f"/>
<rect x="1232" y="596" width="1" height="12" fill="#eb505f"/>
<rect x="1240" y="590" width="1" height="18" fill="#eb505f"/>
<rect x="1248" y="584" width="1" height="24" fill="#eb505f"/>
<rect x="1256" y="582" width="1" height="26" fill="#eb505f"/>
<rect x="1264" y="581" width="1" height="27" fill="#eb505f"/>
<rect x="1272" y="586" width="1" height="22" fill="#eb505f"/>
</g>
<path d="M72 590h3v1h-3zM75 589h4v1h-4zM79 588h6v1h-6zM85 587h8v1h-8zM93 586h16v1h-16zM109 585h39v1h-39zM148 586h8v1h-8zM156 587h8v1h-8zM164 588h8v1h-8zM172 589h6v1h-6zM178 590h4v1h-4zM182 591h4v1h-4zM186 592h4v1h-4zM190 593h4v1h-4zM194 594h4v1h-4zM198 595h4v1h-4zM202 596h2v1h-2zM204 597h3v1h-3zM207 598h2v1h-2zM209 599h2v1h-2zM211 600h2v1h-2zM213 601h2v1h-2zM215 602h2v1h-2zM217 603h2v1h-2zM219 604h1v1h-1zM220 605h2v1h-2zM222 606h2v1h-2zM224 607h1v1h-1zM225 608h2v1h-2zM227 609h2v1h-2zM229 610h2v1h-2zM231 611h2v1h-2zM233 612h2v1h-2zM235 613h1v1h-1zM236 614h2v1h-2zM238 615h2v1h-2zM240 616h1v1h-1zM241 617h2v1h-2zM243 618h2v1h-2zM245 619h2v1h-2zM247 620h3v1h-3zM250 621h2v1h-2zM252 622h3v1h-3zM255 623h3v1h-3zM258 624h2v1h-2zM260 625h3v1h-3zM263 626h3v1h-3zM266 627h2v1h-2zM268 628h3v1h-3zM271 629h5v1h-5zM276 630h8v1h-8zM284 631h9v1h-9zM293 630h16v1h-16zM309 629h15v1h-15zM324 630h16v1h-16zM340 631h8v1h-8zM348 632h8v1h-8zM356 633h8v1h-8zM364 634h6v1h-6zM370 635h4v1h-4zM374 636h3v1h-3zM377 637h2v1h-2zM379 638h1v1h-1zM380 639h2v1h-2zM382 640h2v1h-2zM384 641h1v1h-1zM385 642h2v1h-2zM387 643h1v1h-1zM388 644h2v1h-2zM390 645h2v1h-2zM392 646h1v1h-1zM393 647h1v1h-1zM394 648h2v1h-2zM396 649h1v1h-1zM397 650h1v1h-1zM398 651h2v1h-2zM400 652h1v1h-1zM401 653h1v1h-1zM402 654h2v1h-2zM404 655h1v1h-1zM405 656h1v1h-1zM406 657h2v1h-2zM408 658h1v1h-1zM409 659h1v1h-1zM410 660h1v1h-1zM411 661h1v1h-1zM412 662h1v1h-1zM413 663h1v1h-1zM414 664h1v1h-1zM415 665h1v1h-1zM416 666h1v1h-1zM417 667h2v1h-2zM419 668h1v1h-1zM420 669h2v1h-2zM422 670h2v1h-2zM424 671h1v1h-1zM425 672h2v1h-2zM427 673h2v1h-2zM429 674h2v1h-2zM431 675h2v1h-2zM433 676h2v1h-2zM435 677h2v1h-2zM437 678h2v1h-2zM439 679h2v1h-2zM441 680h2v1h-2zM443 681h2v1h-2zM445 682h2v1h-2zM447 683h3v1h-3zM450 684h2v1h-2zM452 685h3v1h-3zM455 686h3v1h-3zM458 687h4v1h-4zM462 688h3v1h-3zM465 689h2v1h-2zM467 690h2v1h-2zM469 691h2v1h-2zM471 692h2v1h-2zM473 693h1v1h-1zM474 694h2v1h-2zM476 695h1v1h-1zM477 696h1v1h-1zM478 697h2v1h-2zM480 698h1v1h-1zM481 699h2v1h-2zM483 700h1v1h-1zM484 701h2v1h-2zM486 702h2v1h-2zM488 703h1v1h-1zM489 704h2v1h-2zM491 705h2v1h-2zM493 706h2v1h-2zM495 707h2v1h-2zM497 708h2v1h-2zM499 709h2v1h-2zM501 710h2v1h-2zM503 711h3v1h-3zM506 712h4v1h-4zM510 713h15v1h-15zM525 712h5v1h-5zM530 711h3v1h-3zM533 710h2v1h-2zM535 709h6v1h-6zM541 708h5v1h-5zM546 707h2v1h-2zM548 706h2v1h-2zM550 705h2v1h-2zM552 704h2v1h-2zM554 703h3v1h-3zM557 702h2v1h-2zM559 701h4v1h-4zM563 700h4v1h-4zM567 699h3v1h-3zM570 698h3v1h-3zM573 697h2v1h-2zM575 696h2v1h-2zM577 695h2v1h-2zM579 694h2v1h-2zM581 693h1v1h-1zM582 692h2v1h-2zM584 691h1v1h-1zM585 690h2v1h-2zM587 689h2v1h-2zM589 688h1v1h-1zM590 687h2v1h-2zM592 686h1v1h-1zM593 685h2v1h-2zM595 684h1v1h-1zM596 683h1v1h-1zM597 682h2v1h-2zM599 681h1v1h-1zM600 680h1v1h-1zM601 679h2v1h-2zM603 678h1v1h-1zM604 677h1v1h-1zM605 676h2v1h-2zM607 675h1v1h-1zM608 674h1v1h-1zM609 673h2v1h-2zM611 672h1v1h-1zM612 671h1v1h-1zM613 670h2v1h-2zM615 669h1v1h-1zM616 668h1v1h-1zM617 667h1v1h-1zM618 666h1v1h-1zM619 665h1v1h-1zM620 663h1v2h-1zM621 662h1v1h-1zM622 661h1v1h-1zM623 660h1v1h-1zM624 659h1v1h-1zM625 658h1v1h-1zM626 657h1v1h-1zM627 656h1v1h-1zM628 655h1v1h-1zM629 654h1v1h-1zM630 653h1v1h-1zM631 652h1v1h-1zM632 651h1v1h-1zM633 650h1v1h-1zM634 649h1v1h-1zM635 648h1v1h-1zM636 647h1v1h-1zM637 646h1v1h-1zM638 645h1v1h-1zM639 644h1v1h-1zM640 643h1v1h-1zM641 642h1v1h-1zM642 641h1v1h-1zM643 640h1v1h-1zM644 639h1v1h-1zM645 638h1v1h-1zM646 637h1v1h-1zM647 636h1v1h-1zM648 635h1v1h-1zM649 634h1v1h-1zM650 633h1v1h-1zM651 632h1v1h-1zM652 631h1v1h-1zM653 630h1v1h-1zM654 629h1v1h-1zM655 628h1v1h-1zM656 627h1v1h-1zM657 626h1v1h-1zM658 625h1v1h-1zM659 624h1v1h-1zM660 622h1v2h-1zM661 621h1v1h-1zM662 620h1v1h-1zM663 619h1v1h-1zM664 618h1v1h-1zM665 617h1v1h-1zM666 616h1v1h-1zM667 615h1v1h-1zM668 614h1v1h-1zM669 613h1v1h-1zM670 612h1v1h-1zM671 611h1v1h-1zM672 610h1v1h-1zM673 609h2v1h-2zM675 608h1v1h-1zM676 607h1v1h-1zM677 606h2v1h-2zM679 605h1v1h-1zM680 604h1v1h-1zM681 603h2v1h-2zM683 602h2v1h-2zM685 601h1v1h-1zM686 600h2v1h-2zM688 599h1v1h-1zM689 598h2v1h-2zM691 597h1v1h-1zM692 596h1v1h-1zM693 595h2v1h-2zM695 594h1v1h-1zM696 593h1v1h-1zM697 592h2v1h-2zM699 591h2v1h-2zM701 590h1v1h-1zM702 589h2v1h-2zM704 588h2v1h-2zM706 587h3v1h-3zM709 586h2v1h-2zM711 585h4v1h-4zM715 584h4v1h-4zM719 583h4v1h-4zM723 582h4v1h-4zM727 581h6v1h-6zM733 580h8v1h-8zM741 579h14v1h-14zM755 578h4v1h-4zM759 577h6v1h-6zM765 576h8v1h-8zM773 575h14v1h-14zM787 574h4v1h-4zM791 573h14v1h-14zM805 572h8v1h-8zM813 571h31v1h-31zM844 572h8v1h-8zM852 573h8v1h-8zM860 574h6v1h-6zM866 575h4v1h-4zM870 576h4v1h-4zM874 577h2v1h-2zM876 578h3v1h-3zM879 579h2v1h-2zM881 580h2v1h-2zM883 581h2v1h-2zM885 582h2v1h-2zM887 583h2v1h-2zM889 584h2v1h-2zM891 585h2v1h-2zM893 586h2v1h-2zM895 587h2v1h-2zM897 588h1v1h-1zM898 589h2v1h-2zM900 590h1v1h-1zM901 591h1v1h-1zM902 592h2v1h-2zM904 593h1v1h-1zM905 594h1v1h-1zM906 595h2v1h-2zM908 596h1v1h-1zM909 597h1v1h-1zM910 598h2v1h-2zM912 599h1v1h-1zM913 600h2v1h-2zM915 601h1v1h-1zM916 602h2v1h-2zM918 603h2v1h-2zM920 604h1v1h-1zM921 605h1v1h-1zM922 606h2v1h-2zM924 607h1v1h-1zM925 608h1v1h-1zM926 609h2v1h-2zM928 610h1v1h-1zM929 611h2v1h-2zM931 612h1v1h-1zM932 613h2v1h-2zM934 614h2v1h-2zM936 615h1v1h-1zM937 616h2v1h-2zM939 617h1v1h-1zM940 618h2v1h-2zM942 619h2v1h-2zM944 620h1v1h-1zM945 621h2v1h-2zM947 622h2v1h-2zM949 623h2v1h-2zM951 624h2v1h-2zM953 625h2v1h-2zM955 626h2v1h-2zM957 627h2v1h-2zM959 628h3v1h-3zM962 629h2v1h-2zM964 630h3v1h-3zM967 631h3v1h-3zM970 632h2v1h-2zM972 633h3v1h-3zM975 634h3v1h-3zM978 635h2v1h-2zM980 636h3v1h-3zM983 637h3v1h-3zM986 638h4v1h-4zM990 639h39v1h-39zM1029 638h8v1h-8zM1037 637h6v1h-6zM1043 636h4v1h-4zM1047 635h4v1h-4zM1051 634h4v1h-4zM1055 633h3v1h-3zM1058 632h3v1h-3zM1061 631h2v1h-2zM1063 630h4v1h-4zM1067 629h4v1h-4zM1071 628h4v1h-4zM1075 627h4v1h-4zM1079 626h4v1h-4zM1083 625h4v1h-4zM1087 624h6v1h-6zM1093 623h8v1h-8zM1101 622h8v1h-8zM1109 621h6v1h-6zM1115 620h4v1h-4zM1119 619h4v1h-4zM1123 618h4v1h-4zM1127 617h6v1h-6zM1133 616h6v1h-6zM1139 615h4v1h-4zM1143 614h4v1h-4zM1147 613h4v1h-4zM1151 612h6v1h-6zM1157 611h8v1h-8zM1165 610h6v1h-6zM1171 609h4v1h-4zM1175 608h4v1h-4zM1179 607h4v1h-4zM1183 606h6v1h-6zM1189 605h5v1h-5zM1194 604h3v1h-3zM1197 603h2v1h-2zM1199 602h14v1h-14zM1213 601h6v1h-6zM1219 600h4v1h-4zM1223 599h6v1h-6zM1229 598h6v1h-6zM1235 597h4v1h-4zM1239 596h3v1h-3zM1242 595h3v1h-3zM1245 594h2v1h-2zM1247 593h4v1h-4zM1251 592h4v1h-4zM1255 591h3v1h-3zM1258 590h2v1h-2zM1260 589h2v1h-2zM1262 588h2v1h-2zM1264 587h3v1h-3zM1267 586h4v1h-4zM1271 585h2v1h-2z" fill="#e6e628" shape-rendering="crispEdges"/>
<path d="M72 589h2v1h-2zM74 588h3v1h-3zM77 587h2v1h-2zM79 586h6v1h-6zM85 585h8v1h-8zM93 584h8v1h-8zM101 583h15v1h-15zM116 584h6v1h-6zM122 585h4v1h-4zM126 586h7v1h-7zM133 585h13v1h-13zM146 586h4v1h-4zM150 587h4v1h-4zM154 588h2v1h-2zM156 589h3v1h-3zM159 590h3v1h-3zM162 591h2v1h-2zM164 592h3v1h-3zM167 593h3v1h-3zM170 594h2v1h-2zM172 595h3v1h-3zM175 596h3v1h-3zM178 597h2v1h-2zM180 598h3v1h-3zM183 599h3v1h-3zM186 600h4v1h-4zM190 601h4v1h-4zM194 602h2v1h-2zM196 603h3v1h-3zM199 604h3v1h-3zM202 605h2v1h-2zM204 606h3v1h-3zM207 607h2v1h-2zM209 608h1v2h-1zM210 610h1v1h-1zM211 611h1v1h-1zM212 612h1v2h-1zM213 614h1v1h-1zM214 615h1v1h-1zM215 616h1v2h-1zM216 618h1v1h-1zM217 619h1v1h-1zM218 620h2v1h-2zM220 621h1v1h-1zM221 622h1v1h-1zM222 623h2v1h-2zM224 624h1v1h-1zM225 625h1v1h-1zM226 626h2v1h-2zM228 627h1v1h-1zM229 628h1v1h-1zM230 629h2v1h-2zM232 630h1v1h-1zM233 631h2v1h-2zM235 632h2v1h-2zM237 633h2v1h-2zM239 634h2v1h-2zM241 635h2v1h-2zM243 636h2v1h-2zM245 637h2v1h-2zM247 638h12v1h-12zM259 637h4v1h-4zM263 636h3v1h-3zM266 637h2v1h-2zM268 638h3v1h-3zM271 639h4v1h-4zM275 638h4v1h-4zM279 637h3v1h-3zM282 636h2v1h-2zM284 635h2v1h-2zM286 634h2v1h-2zM288 633h2v1h-2zM290 632h3v1h-3zM293 631h2v1h-2zM295 630h3v1h-3zM298 629h3v1h-3zM301 628h2v1h-2zM303 627h6v1h-6zM309 626h12v1h-12zM321 627h2v1h-2zM323 628h2v1h-2zM325 629h2v1h-2zM327 630h3v1h-3zM330 631h2v1h-2zM332 632h3v1h-3zM335 633h3v1h-3zM338 634h2v1h-2zM340 635h3v1h-3zM343 636h5v1h-5zM348 637h21v1h-21zM369 638h1v1h-1zM370 639h1v1h-1zM371 640h1v1h-1zM372 641h1v2h-1zM373 643h1v1h-1zM374 644h1v1h-1zM375 645h1v1h-1zM376 646h1v1h-1zM377 647h1v2h-1zM378 649h1v1h-1zM379 650h1v2h-1zM380 652h1v1h-1zM381 653h1v2h-1zM382 655h1v1h-1zM383 656h1v2h-1zM384 658h1v1h-1zM385 659h1v2h-1zM386 661h1v2h-1zM387 663h1v2h-1zM388 665h1v1h-1zM389 666h1v2h-1zM390 668h1v2h-1zM391 670h1v2h-1zM392 672h1v1h-1zM393 673h1v1h-1zM394 674h1v1h-1zM395 675h1v1h-1zM396 676h1v2h-1zM397 678h1v1h-1zM398 679h1v1h-1zM399 680h1v1h-1zM400 681h1v1h-1zM401 682h1v1h-1zM402 683h1v1h-1zM403 684h1v1h-1zM404 685h2v1h-2zM406 686h1v1h-1zM407 687h1v1h-1zM408 688h1v1h-1zM409 689h2v1h-2zM411 690h2v1h-2zM413 691h2v1h-2zM415 692h3v1h-3zM418 693h4v1h-4zM422 694h4v1h-4zM426 695h2v1h-2zM428 696h3v1h-3zM431 697h12v1h-12zM443 696h4v1h-4zM447 695h5v1h-5zM452 696h6v1h-6zM458 697h2v1h-2zM460 698h3v1h-3zM463 699h2v1h-2zM465 700h1v2h-1zM466 702h1v1h-1zM467 703h1v1h-1zM468 704h1v2h-1zM469 706h1v1h-1zM470 707h1v1h-1zM471 708h1v2h-1zM472 710h1v1h-1zM473 711h1v1h-1zM474 712h1v2h-1zM475 714h1v1h-1zM476 715h1v1h-1zM477 716h1v1h-1zM478 717h1v2h-1zM479 719h1v1h-1zM480 720h2v1h-2zM482 721h2v1h-2zM484 722h3v1h-3zM487 723h18v1h-18zM505 722h2v1h-2zM507 721h2v1h-2zM509 720h1v1h-1zM510 719h2v1h-2zM512 718h1v1h-1zM513 717h2v1h-2zM515 716h1v1h-1zM516 715h1v1h-1zM517 714h2v1h-2zM519 713h1v1h-1zM520 712h1v1h-1zM521 711h2v1h-2zM523 710h2v1h-2zM525 709h1v1h-1zM526 708h2v1h-2zM528 707h2v1h-2zM530 706h2v1h-2zM532 705h2v1h-2zM534 704h2v1h-2zM536 703h3v1h-3zM539 702h4v1h-4zM543 701h2v1h-2zM545 700h2v1h-2zM547 699h2v1h-2zM549 698h1v1h-1zM550 697h2v1h-2zM552 696h1v1h-1zM553 695h2v1h-2zM555 694h2v1h-2zM557 693h1v1h-1zM558 692h2v1h-2zM560 691h1v1h-1zM561 690h2v1h-2zM563 689h2v1h-2zM565 688h1v1h-1zM566 687h2v1h-2zM568 686h2v1h-2zM570 685h2v1h-2zM572 684h2v1h-2zM574 683h2v1h-2zM576 682h1v1h-1zM577 681h1v1h-1zM578 680h1v1h-1zM579 679h1v1h-1zM580 677h1v2h-1zM581 676h1v1h-1zM582 675h1v1h-1zM583 674h1v1h-1zM584 673h1v1h-1zM585 672h2v1h-2zM587 671h1v1h-1zM588 670h1v1h-1zM589 669h2v1h-2zM591 668h1v1h-1zM592 667h1v1h-1zM593 666h1v1h-1zM594 665h1v1h-1zM595 664h2v1h-2zM597 663h1v1h-1zM598 662h1v1h-1zM599 661h1v1h-1zM600 660h1v1h-1zM601 659h1v1h-1zM602 657h1v2h-1zM603 656h1v1h-1zM604 655h1v1h-1zM605 654h1v1h-1zM606 652h1v2h-1zM607 651h1v1h-1zM608 650h1v1h-1zM609 648h1v2h-1zM610 647h1v1h-1zM611 646h1v1h-1zM612 644h1v2h-1zM613 643h1v1h-1zM614 642h1v1h-1zM615 640h1v2h-1zM616 639h1v1h-1zM617 637h1v2h-1zM618 636h1v1h-1zM619 634h1v2h-1zM620 633h1v1h-1zM621 631h1v2h-1zM622 630h1v1h-1zM623 628h1v2h-1zM624 627h1v1h-1zM625 626h1v1h-1zM626 625h1v1h-1zM627 624h1v1h-1zM628 623h1v1h-1zM629 622h1v1h-1zM630 621h1v1h-1zM631 620h1v1h-1zM632 619h1v1h-1zM633 618h1v1h-1zM634 617h1v1h-1zM635 616h2v1h-2zM637 615h1v1h-1zM638 614h1v1h-1zM639 613h1v1h-1zM640 612h1v1h-1zM641 611h2v1h-2zM643 610h2v1h-2zM645 609h1v1h-1zM646 608h2v1h-2zM648 607h1v1h-1zM649 606h1v1h-1zM650 605h1v1h-1zM651 604h1v1h-1zM652 602h1v2h-1zM653 601h1v1h-1zM654 600h1v1h-1zM655 599h1v1h-1zM656 598h1v1h-1zM657 597h1v1h-1zM658 595h1v2h-1zM659 594h1v1h-1zM660 593h1v1h-1zM661 592h1v1h-1zM662 590h1v2h-1zM663 589h1v1h-1zM664 588h1v1h-1zM665 587h1v1h-1zM666 586h1v1h-1zM667 585h1v1h-1zM668 584h1v1h-1zM669 583h1v1h-1zM670 582h1v1h-1zM671 581h1v1h-1zM672 580h2v1h-2zM674 579h3v1h-3zM677 578h2v1h-2zM679 577h4v1h-4zM683 576h4v1h-4zM687 575h3v1h-3zM690 574h2v1h-2zM692 573h2v1h-2zM694 572h2v1h-2zM696 571h3v1h-3zM699 570h4v1h-4zM703 569h5v1h-5zM708 570h6v1h-6zM714 571h4v1h-4zM718 572h4v1h-4zM722 573h2v1h-2zM724 574h3v1h-3zM727 575h3v1h-3zM730 576h4v1h-4zM734 577h7v1h-7zM741 576h7v1h-7zM748 577h7v1h-7zM755 576h4v1h-4zM759 575h6v1h-6zM765 574h8v1h-8zM773 573h6v1h-6zM779 572h4v1h-4zM783 571h3v1h-3zM786 570h3v1h-3zM789 569h2v1h-2zM791 568h3v1h-3zM794 569h4v1h-4zM798 570h13v1h-13zM811 569h4v1h-4zM815 568h13v1h-13zM828 569h8v1h-8zM836 570h6v1h-6zM842 571h2v1h-2zM844 572h3v1h-3zM847 573h2v1h-2zM849 574h2v1h-2zM851 575h2v1h-2zM853 576h2v1h-2zM855 577h3v1h-3zM858 578h2v1h-2zM860 579h3v1h-3zM863 580h2v1h-2zM865 581h2v1h-2zM867 582h2v1h-2zM869 583h2v1h-2zM871 584h3v1h-3zM874 585h2v1h-2zM876 586h3v1h-3zM879 587h2v1h-2zM881 588h1v1h-1zM882 589h1v1h-1zM883 590h1v1h-1zM884 591h2v1h-2zM886 592h1v1h-1zM887 593h1v1h-1zM888 594h1v1h-1zM889 595h1v2h-1zM890 597h1v1h-1zM891 598h1v1h-1zM892 599h1v2h-1zM893 601h1v1h-1zM894 602h1v1h-1zM895 603h1v2h-1zM896 605h1v1h-1zM897 606h1v1h-1zM898 607h1v2h-1zM899 609h1v1h-1zM900 610h1v1h-1zM901 611h1v1h-1zM902 612h1v2h-1zM903 614h1v1h-1zM904 615h1v1h-1zM905 616h1v1h-1zM906 617h1v1h-1zM907 618h1v1h-1zM908 619h1v1h-1zM909 620h1v1h-1zM910 621h1v1h-1zM911 622h1v1h-1zM912 623h1v1h-1zM913 624h1v1h-1zM914 625h2v1h-2zM916 626h1v1h-1zM917 627h1v1h-1zM918 628h2v1h-2zM920 629h1v1h-1zM921 630h2v1h-2zM923 631h2v1h-2zM925 632h2v1h-2zM927 633h3v1h-3zM930 634h2v1h-2zM932 635h3v1h-3zM935 636h3v1h-3zM938 637h2v1h-2zM940 638h3v1h-3zM943 639h3v1h-3zM946 640h4v1h-4zM950 641h12v1h-12zM962 642h4v1h-4zM966 643h4v1h-4zM970 644h2v1h-2zM972 645h3v1h-3zM975 646h2v1h-2zM977 647h2v1h-2zM979 648h2v1h-2zM981 649h2v1h-2zM983 650h2v1h-2zM985 649h2v1h-2zM987 648h2v1h-2zM989 647h1v1h-1zM990 646h2v1h-2zM992 645h5v1h-5zM997 644h5v1h-5zM1002 643h3v1h-3zM1005 642h2v1h-2zM1007 641h4v1h-4zM1011 640h4v1h-4zM1015 639h3v1h-3zM1018 638h3v1h-3zM1021 637h2v1h-2zM1023 636h6v1h-6zM1029 635h8v1h-8zM1037 634h5v1h-5zM1042 633h2v1h-2zM1044 632h2v1h-2zM1046 631h2v1h-2zM1048 630h2v1h-2zM1050 629h3v1h-3zM1053 628h2v1h-2zM1055 627h3v1h-3zM1058 626h3v1h-3zM1061 625h2v1h-2zM1063 624h3v1h-3zM1066 623h3v1h-3zM1069 622h2v1h-2zM1071 621h3v1h-3zM1074 620h3v1h-3zM1077 619h2v1h-2zM1079 618h30v1h-30zM1109 617h8v1h-8zM1117 616h5v1h-5zM1122 615h3v1h-3zM1125 614h2v1h-2zM1127 613h4v1h-4zM1131 612h4v1h-4zM1135 611h3v1h-3zM1138 610h3v1h-3zM1141 609h2v1h-2zM1143 608h6v1h-6zM1149 607h8v1h-8zM1157 606h6v1h-6zM1163 605h4v1h-4zM1167 604h4v1h-4zM1171 603h4v1h-4zM1175 602h3v1h-3zM1178 601h3v1h-3zM1181 600h2v1h-2zM1183 599h4v1h-4zM1187 598h4v1h-4zM1191 597h22v1h-22zM1213 596h8v1h-8zM1221 595h6v1h-6zM1227 594h4v1h-4zM1231 593h2v1h-2zM1233 592h2v1h-2zM1235 591h2v1h-2zM1237 590h1v1h-1zM1238 589h2v1h-2zM1240 588h1v1h-1zM1241 587h2v1h-2zM1243 586h1v1h-1zM1244 585h1v1h-1zM1245 584h2v1h-2zM1247 583h1v1h-1zM1248 582h2v1h-2zM1250 581h2v1h-2zM1252 580h2v1h-2zM1254 579h2v1h-2zM1256 578h2v1h-2zM1258 577h2v1h-2zM1260 576h2v1h-2zM1262 575h2v1h-2zM1264 574h9v1h-9z" fill="#e8e8e8" shape-rendering="crispEdges"/>
<text x="64" y="23.2" fill="#efefef" font-size="12" text-anchor="end" font-weight="normal" textLength="44.5" lengthAdjust="spacingAndGlyphs">99.9702</text>
<text x="64" y="78.2" fill="#efefef" font-size="12" text-anchor="end" font-weight="normal" textLength="44.5" lengthAdjust="spacingAndGlyphs">99.4461</text>
<text x="64" y="134.2" fill="#efefef" font-size="12" text-anchor="end" font-weight="normal" textLength="44.5" lengthAdjust="spacingAndGlyphs">98.9221</text>
<text x="64" y="190.2" fill="#efefef" font-size="12" text-anchor="end" font-weight="normal" textLength="44.5" lengthAdjust="spacingAndGlyphs">98.3981</text>
<text x="64" y="245.2" fill="#efefef" font-size="12" text-anchor="end" font-weight="normal" textLength="44.5" lengthAdjust="spacingAndGlyphs">97.8741</text>
<text x="64" y="301.2" fill="#efefef" font-size="12" text-anchor="end" font-weight="normal" textLength="44.5" lengthAdjust="spacingAndGlyphs">97.3500</text>
<text x="64" y="357.2" fill="#efefef" font-size="12" text-anchor="end" font-weight="normal" textLength="44.5" lengthAdjust="spacingAndGlyphs">96.8260</text>
<text x="64" y="412.2" fill="#efefef" font-size="12" text-anchor="end" font-weight="normal" textLength="44.5" lengthAdjust="spacingAndGlyphs">96.3020</text>
<text x="64" y="468.2" fill="#efefef" font-size="12" text-anchor="end" font-weight="normal" textLength="44.5" lengthAdjust="spacingAndGlyphs">95.7780</text>
<text x="1305.5" y="22.6" fill="#efefef" font-size="12" text-anchor="start" font-weight="normal" textLength="44.5" lengthAdjust="spacingAndGlyphs">99.9702</text>
<text x="1305.5" y="133.6" fill="#efefef" font-size="12" text-anchor="start" font-weight="normal" textLength="44.5" lengthAdjust="spacingAndGlyphs">98.9221</text>
<text x="1305.5" y="189.6" fill="#efefef" font-size="12" text-anchor="start" font-weight="normal" textLength="44.5" lengthAdjust="spacingAndGlyphs">98.3981</text>
<text x="1305.5" y="244.6" fill="#efefef" font-size="12" text-anchor="start" font-weight="normal" textLength="44.5" lengthAdjust="spacingAndGlyphs">97.8741</text>
<text x="1305.5" y="300.6" fill="#efefef" font-size="12" text-anchor="start" font-weight="normal" textLength="44.5" lengthAdjust="spacingAndGlyphs">97.3500</text>
<text x="1305.5" y="356.6" fill="#efefef" font-size="12" text-anchor="start" font-weight="normal" textLength="44.5" lengthAdjust="spacingAndGlyphs">96.8260</text>
<text x="1305.5" y="411.6" fill="#efefef" font-size="12" text-anchor="start" font-weight="normal" textLength="44.5" lengthAdjust="spacingAndGlyphs">96.3020</text>
<text x="1305.5" y="467.6" fill="#efefef" font-size="12" text-anchor="start" font-weight="normal" textLength="44.5" lengthAdjust="spacingAndGlyphs">95.7780</text>
<text x="64" y="546.2" fill="#efefef" font-size="12" text-anchor="end" font-weight="normal" textLength="37.5" lengthAdjust="spacingAndGlyphs">0.3327</text>
<text x="1305.5" y="545.8" fill="#efefef" font-size="12" text-anchor="start" font-weight="normal" textLength="37.5" lengthAdjust="spacingAndGlyphs">0.3327</text>
<text x="64" y="572.2" fill="#efefef" font-size="12" text-anchor="end" font-weight="normal" textLength="37.5" lengthAdjust="spacingAndGlyphs">0.1975</text>
<text x="1305.5" y="571.8" fill="#efefef" font-size="12" text-anchor="start" font-weight="normal" textLength="37.5" lengthAdjust="spacingAndGlyphs">0.1975</text>
<text x="64" y="598.2" fill="#efefef" font-size="12" text-anchor="end" font-weight="normal" textLength="37.5" lengthAdjust="spacingAndGlyphs">0.0623</text>
<text x="1305.5" y="597.8" fill="#efefef" font-size="12" text-anchor="start" font-weight="normal" textLength="37.5" lengthAdjust="spacingAndGlyphs">0.0623</text>
<text x="64" y="624.2" fill="#efefef" font-size="12" text-anchor="end" font-weight="normal" textLength="41.5" lengthAdjust="spacingAndGlyphs">-0.0728</text>
<text x="1305.5" y="623.8" fill="#efefef" font-size="12" text-anchor="start" font-weight="normal" textLength="41.5" lengthAdjust="spacingAndGlyphs">-0.0728</text>
<text x="64" y="650.2" fill="#efefef" font-size="12" text-anchor="end" font-weight="normal" textLength="41.5" lengthAdjust="spacingAndGlyphs">-0.2080</text>
<text x="1305.5" y="649.8" fill="#efefef" font-size="12" text-anchor="start" font-weight="normal" textLength="41.5" lengthAdjust="spacingAndGlyphs">-0.2080</text>
<text x="64" y="676.2" fill="#efefef" font-size="12" text-anchor="end" font-weight="normal" textLength="41.5" lengthAdjust="spacingAndGlyphs">-0.3432</text>
<text x="1305.5" y="675.8" fill="#efefef" font-size="12" text-anchor="start" font-weight="normal" textLength="41.5" lengthAdjust="spacingAndGlyphs">-0.3432</text>
<text x="64" y="702.2" fill="#efefef" font-size="12" text-anchor="end" font-weight="normal" textLength="41.5" lengthAdjust="spacingAndGlyphs">-0.4784</text>
<text x="1305.5" y="701.8" fill="#efefef" font-size="12" text-anchor="start" font-weight="normal" textLength="41.5" lengthAdjust="spacingAndGlyphs">-0.4784</text>
<text x="69" y="12" fill="#efefef" font-size="12" text-anchor="start" font-weight="normal">美元指数</text>
<text x="116.5" y="12.5" fill="#ff6a00" font-size="12.5" text-anchor="start" font-weight="normal">【<tspan font-size="12.5">240</tspan>分】</text>
<g fill="none" stroke="#e86a10" stroke-width="0.9"><circle cx="179.3" cy="9.4" r="4.1"/><line x1="175.2" y1="9.4" x2="183.4" y2="9.4"/><line x1="179.3" y1="5.3" x2="179.3" y2="13.5"/></g>
<g shape-rendering="crispEdges"><rect x="192" y="0" width="10" height="11" fill="#ffffff"/><rect x="191" y="0" width="1" height="12" fill="#000080"/><rect x="202" y="0" width="1" height="12" fill="#000080"/><rect x="191" y="11" width="12" height="1" fill="#000080"/><rect x="203" y="1" width="1" height="12" fill="#a8a898"/><rect x="192" y="12" width="12" height="1" fill="#a8a898"/><rect x="192" y="6" width="1" height="1" fill="#ff0000"/><rect x="193" y="5" width="1" height="1" fill="#ff0000"/><rect x="194" y="4" width="1" height="1" fill="#ff0000"/><rect x="195" y="2" width="1" height="1" fill="#ff0000"/><rect x="195" y="3" width="1" height="1" fill="#ff0000"/><rect x="196" y="3" width="1" height="1" fill="#ff0000"/><rect x="197" y="4" width="1" height="1" fill="#ff0000"/><rect x="198" y="5" width="1" height="1" fill="#ff0000"/><rect x="199" y="4" width="1" height="1" fill="#ff0000"/><rect x="200" y="3" width="1" height="1" fill="#ff0000"/><rect x="201" y="3" width="1" height="1" fill="#ff0000"/><rect x="192" y="9" width="1" height="1" fill="#0000ff"/><rect x="193" y="8" width="1" height="1" fill="#0000ff"/><rect x="194" y="7" width="1" height="1" fill="#0000ff"/><rect x="195" y="5" width="1" height="1" fill="#0000ff"/><rect x="195" y="6" width="1" height="1" fill="#0000ff"/><rect x="196" y="6" width="1" height="1" fill="#0000ff"/><rect x="197" y="7" width="1" height="1" fill="#0000ff"/><rect x="198" y="8" width="1" height="1" fill="#0000ff"/><rect x="199" y="7" width="1" height="1" fill="#0000ff"/><rect x="200" y="6" width="1" height="1" fill="#0000ff"/><rect x="201" y="6" width="1" height="1" fill="#0000ff"/></g>
<text x="206.5" y="12" fill="#efefef" font-size="12.5" text-anchor="start" font-weight="normal" textLength="138" lengthAdjust="spacingAndGlyphs">BOLL(26,2) MID:97.1930</text>
<text x="353.5" y="12" fill="#e6e628" font-size="12.5" text-anchor="start" font-weight="normal" textLength="85" lengthAdjust="spacingAndGlyphs">UPPER:97.7266</text>
<text x="447.5" y="12" fill="#d428d4" font-size="12.5" text-anchor="start" font-weight="normal" textLength="89.5" lengthAdjust="spacingAndGlyphs">LOWER:96.6595</text>
<g shape-rendering="crispEdges"><rect x="542" y="0" width="10" height="11" fill="#ffffff"/><rect x="541" y="0" width="1" height="12" fill="#000080"/><rect x="552" y="0" width="1" height="12" fill="#000080"/><rect x="541" y="11" width="12" height="1" fill="#000080"/><rect x="553" y="1" width="1" height="12" fill="#a8a898"/><rect x="542" y="12" width="12" height="1" fill="#a8a898"/><rect x="542" y="6" width="1" height="1" fill="#ff0000"/><rect x="543" y="5" width="1" height="1" fill="#ff0000"/><rect x="544" y="4" width="1" height="1" fill="#ff0000"/><rect x="545" y="2" width="1" height="1" fill="#ff0000"/><rect x="545" y="3" width="1" height="1" fill="#ff0000"/><rect x="546" y="3" width="1" height="1" fill="#ff0000"/><rect x="547" y="4" width="1" height="1" fill="#ff0000"/><rect x="548" y="5" width="1" height="1" fill="#ff0000"/><rect x="549" y="4" width="1" height="1" fill="#ff0000"/><rect x="550" y="3" width="1" height="1" fill="#ff0000"/><rect x="551" y="3" width="1" height="1" fill="#ff0000"/><rect x="542" y="9" width="1" height="1" fill="#0000ff"/><rect x="543" y="8" width="1" height="1" fill="#0000ff"/><rect x="544" y="7" width="1" height="1" fill="#0000ff"/><rect x="545" y="5" width="1" height="1" fill="#0000ff"/><rect x="545" y="6" width="1" height="1" fill="#0000ff"/><rect x="546" y="6" width="1" height="1" fill="#0000ff"/><rect x="547" y="7" width="1" height="1" fill="#0000ff"/><rect x="548" y="8" width="1" height="1" fill="#0000ff"/><rect x="549" y="7" width="1" height="1" fill="#0000ff"/><rect x="550" y="6" width="1" height="1" fill="#0000ff"/><rect x="551" y="6" width="1" height="1" fill="#0000ff"/></g>
<text x="556.5" y="12" fill="#efefef" font-size="12.5" text-anchor="start" font-weight="normal" textLength="77.5" lengthAdjust="spacingAndGlyphs">MA1(0,0,0,50)</text>
<text x="639.5" y="12" fill="#efefef" font-size="12.5" text-anchor="start" font-weight="normal" textLength="74" lengthAdjust="spacingAndGlyphs">MA0:97.5930</text>
<text x="722.5" y="12" fill="#e6e628" font-size="12.5" text-anchor="start" font-weight="normal" textLength="74.5" lengthAdjust="spacingAndGlyphs">MA0:97.5930</text>
<text x="805.5" y="12" fill="#d428d4" font-size="12.5" text-anchor="start" font-weight="normal" textLength="74.5" lengthAdjust="spacingAndGlyphs">MA0:97.5930</text>
<text x="888.5" y="12" fill="#2cc82c" font-size="12.5" text-anchor="start" font-weight="normal" textLength="81.5" lengthAdjust="spacingAndGlyphs">MA50:97.0523</text>
<g shape-rendering="crispEdges"><rect x="1239" y="0" width="14" height="13" fill="#a0a0a0"/><rect x="1240" y="0" width="12" height="12" fill="#050505"/><rect x="1255" y="0" width="14" height="13" fill="#a0a0a0"/><rect x="1256" y="0" width="12" height="12" fill="#050505"/><rect x="1271" y="0" width="14" height="13" fill="#a0a0a0"/><rect x="1272" y="0" width="12" height="12" fill="#050505"/><rect x="1287" y="0" width="14" height="13" fill="#a0a0a0"/><rect x="1288" y="0" width="12" height="12" fill="#050505"/><rect x="1245" y="1" width="2" height="3" fill="#a8a8a8"/><rect x="1245" y="5" width="2" height="2" fill="#a8a8a8"/><rect x="1241" y="5" width="3" height="2" fill="#a8a8a8"/><rect x="1248" y="5" width="3" height="2" fill="#a8a8a8"/><rect x="1245" y="8" width="2" height="3" fill="#a8a8a8"/><rect x="1258" y="2" width="1" height="9" fill="#a8a8a8"/><rect x="1257" y="2" width="3" height="1" fill="#a8a8a8"/><rect x="1257" y="9" width="10" height="1" fill="#a8a8a8"/><rect x="1265" y="8" width="1" height="3" fill="#a8a8a8"/><rect x="1257" y="8" width="1" height="1" fill="#a8a8a8"/><rect x="1257" y="10" width="1" height="1" fill="#a8a8a8"/><rect x="1261" y="2" width="1" height="6" fill="#a8a8a8"/><polygon points="1265,2 1265,7.5 1262,4.75" fill="#a0a0a0" shape-rendering="auto"/><rect x="1274" y="2" width="1" height="9" fill="#a8a8a8"/><rect x="1273" y="2" width="3" height="1" fill="#a8a8a8"/><rect x="1273" y="9" width="10" height="1" fill="#a8a8a8"/><rect x="1281" y="8" width="1" height="3" fill="#a8a8a8"/><rect x="1273" y="8" width="1" height="1" fill="#a8a8a8"/><rect x="1273" y="10" width="1" height="1" fill="#a8a8a8"/><polygon points="1277,2 1277,8.5 1282,5.25" fill="#a0a0a0" shape-rendering="auto"/><rect x="1289" y="1" width="4" height="1" fill="#a8a8a8"/><rect x="1289" y="10" width="4" height="1" fill="#a8a8a8"/><rect x="1289" y="1" width="1" height="10" fill="#a8a8a8"/><rect x="1292" y="1" width="1" height="10" fill="#a8a8a8"/><rect x="1293" y="5" width="5" height="1" fill="#a8a8a8"/><rect x="1296" y="4" width="1" height="3" fill="#a8a8a8"/><rect x="1295" y="3" width="1" height="1" fill="#a8a8a8"/><rect x="1295" y="7" width="1" height="1" fill="#a8a8a8"/><polygon points="1295.5,3 1295.5,8 1298,5.5" fill="#a0a0a0" shape-rendering="auto"/></g>
<rect x="1303" y="62" width="67" height="16" fill="#000" shape-rendering="crispEdges"/>
<text x="1305" y="74.5" fill="#f09a3a" font-size="12" text-anchor="start" font-weight="normal" textLength="44.5" lengthAdjust="spacingAndGlyphs">99.5748</text>
<rect x="1302.5" y="272.5" width="68" height="17" fill="#000" stroke="#f09a3a" stroke-width="1" shape-rendering="crispEdges"/>
<text x="1305.5" y="285" fill="#f09a3a" font-size="12" text-anchor="start" font-weight="normal" textLength="44.5" lengthAdjust="spacingAndGlyphs">97.5930</text>
<rect x="1362" y="263" width="9" height="9" fill="#000" shape-rendering="crispEdges"/>
<polygon points="1362.5,267 1366,263.5 1369.5,267" fill="#f09a3a"/><polygon points="1362.5,271.5 1366,268 1369.5,271.5" fill="#f09a3a"/>
<g transform="translate(6,528)"><g stroke="#ff1010" stroke-width="1"><line x1="0" y1="-6.5" x2="0" y2="-5"/><line x1="0" y1="5" x2="0" y2="6.5"/><line x1="-6.5" y1="0" x2="-5" y2="0"/><line x1="5" y1="0" x2="6.5" y2="0"/><line x1="-4.6" y1="-4.6" x2="-3.6" y2="-3.6"/><line x1="4.6" y1="-4.6" x2="3.6" y2="-3.6"/><line x1="-4.6" y1="4.6" x2="-3.6" y2="3.6"/><line x1="4.6" y1="4.6" x2="3.6" y2="3.6"/></g><circle r="3.6" fill="#fff" stroke="#000" stroke-width="0.8"/><circle r="1.8" fill="#ff0000"/></g>
<text x="69.5" y="534.5" fill="#efefef" font-size="12.5" text-anchor="start" font-weight="normal" textLength="155" lengthAdjust="spacingAndGlyphs">MACD(26,12,9) DIFF:0.1684</text>
<text x="233.5" y="534.5" fill="#e6e628" font-size="12.5" text-anchor="start" font-weight="normal" textLength="64" lengthAdjust="spacingAndGlyphs">DEA:0.1149</text>
<text x="307" y="534.5" fill="#d428d4" font-size="12.5" text-anchor="start" font-weight="normal" textLength="76" lengthAdjust="spacingAndGlyphs">MACD:0.1071</text>
<text x="105.5" y="738" fill="#f2f2f2" font-size="12" text-anchor="middle" font-weight="bold" textLength="31" lengthAdjust="spacingAndGlyphs">01/16</text>
<text x="249.5" y="738" fill="#f2f2f2" font-size="12" text-anchor="middle" font-weight="bold" textLength="31" lengthAdjust="spacingAndGlyphs">01/21</text>
<text x="393.5" y="738" fill="#f2f2f2" font-size="12" text-anchor="middle" font-weight="bold" textLength="31" lengthAdjust="spacingAndGlyphs">01/24</text>
<text x="681.5" y="738" fill="#f2f2f2" font-size="12" text-anchor="middle" font-weight="bold" textLength="31" lengthAdjust="spacingAndGlyphs">02/03</text>
<text x="825.5" y="738" fill="#f2f2f2" font-size="12" text-anchor="middle" font-weight="bold" textLength="31" lengthAdjust="spacingAndGlyphs">02/06</text>
<text x="969.5" y="738" fill="#f2f2f2" font-size="12" text-anchor="middle" font-weight="bold" textLength="31" lengthAdjust="spacingAndGlyphs">02/11</text>
<text x="1113.5" y="738" fill="#f2f2f2" font-size="12" text-anchor="middle" font-weight="bold" textLength="31" lengthAdjust="spacingAndGlyphs">02/14</text>
<text x="1257.5" y="738" fill="#f2f2f2" font-size="12" text-anchor="middle" font-weight="bold" textLength="31" lengthAdjust="spacingAndGlyphs">02/19</text>
<rect x="435" y="726" width="163" height="16" fill="#000" shape-rendering="crispEdges"/>
<text x="437" y="739" fill="#f09a3a" font-size="12.5">2026/01/27 02:00<tspan dx="2.5">~</tspan><tspan dx="2.5">06:00 二</tspan></text>
<text x="7.5" y="740.5" fill="#ff7010" font-size="12.5" text-anchor="start" font-weight="bold" textLength="33" lengthAdjust="spacingAndGlyphs">240分</text>
<polygon points="46,740 50.2,731.8 54.4,740" fill="#ff6a00"/>
<text x="1248.5" y="719" fill="#e4eaf4" font-size="30" textLength="98" lengthAdjust="spacing">FX678</text>
<text x="1373" y="94" fill="#efefef" font-size="12" text-anchor="start" font-weight="normal">最</text>
<text x="1373" y="119" fill="#efefef" font-size="12" text-anchor="start" font-weight="normal">最</text>
<text x="1373" y="145" fill="#efefef" font-size="12" text-anchor="start" font-weight="normal">委</text>
<text x="1373" y="165" fill="#efefef" font-size="12" text-anchor="start" font-weight="normal">振</text>
<text x="1373" y="226" fill="#3a8a80" font-size="12" text-anchor="start" font-weight="normal">1</text>
<g stroke="#2a2a2a" shape-rendering="crispEdges"><line x1="1373" y1="233.5" x2="1377" y2="233.5"/><line x1="1373" y1="261.5" x2="1377" y2="261.5"/><line x1="1373" y1="289.5" x2="1377" y2="289.5"/></g>
</svg>
</body></html>
